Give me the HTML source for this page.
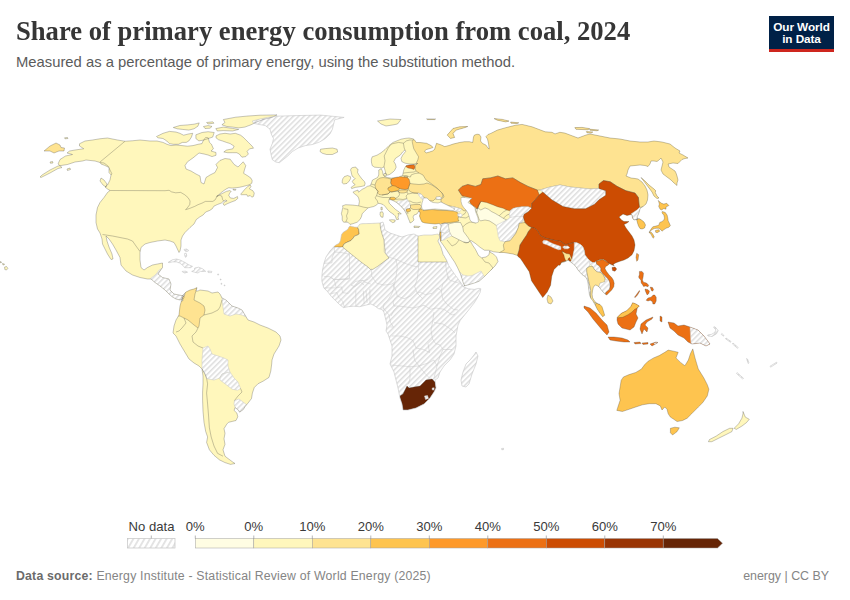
<!DOCTYPE html>
<html><head><meta charset="utf-8">
<style>
html,body{margin:0;padding:0;background:#fff;}
body{width:850px;height:600px;position:relative;overflow:hidden;font-family:"Liberation Sans",sans-serif;}
.title{position:absolute;left:16px;top:17.6px;line-height:27px;font-family:"Liberation Serif",serif;font-weight:bold;font-size:27px;color:#363636;white-space:nowrap;transform:scaleX(0.986);transform-origin:0 0;}
.sub{position:absolute;left:16px;top:54.6px;line-height:15px;font-size:14.8px;color:#5b5b5b;white-space:nowrap;}
.logo{position:absolute;left:769px;top:16px;width:65px;height:36px;background:#002147;}
.logo .bar{position:absolute;left:0;bottom:0;width:65px;height:3px;background:#ce261e;}
.logo .t{position:absolute;left:0;width:65px;text-align:center;color:#fff;font-weight:bold;font-size:11.8px;line-height:12px;letter-spacing:-0.1px;}
.foot{position:absolute;left:16px;top:570.2px;line-height:13px;font-size:12.3px;color:#858585;white-space:nowrap;letter-spacing:0.19px;}
.foot b{color:#6b6b6b;}
.lic{position:absolute;right:21px;top:570.2px;line-height:13px;font-size:12.4px;color:#858585;white-space:nowrap;}
svg{position:absolute;left:0;top:0;}
</style></head><body>
<div class="title">Share of primary energy consumption from coal, 2024</div>
<div class="sub">Measured as a percentage of primary energy, using the substitution method.</div>
<div class="logo"><div class="t" style="top:4.5px">Our World</div><div class="t" style="top:16.5px">in Data</div><div class="bar"></div></div>
<svg width="850" height="600" viewBox="0 0 850 600">
<defs>
<pattern id="hatch" patternUnits="userSpaceOnUse" width="3.8" height="3.8" patternTransform="rotate(45)">
<rect width="3.8" height="3.8" fill="#ffffff"/><rect width="1.5" height="3.8" fill="#dddddd"/></pattern>
<pattern id="hatchL" patternUnits="userSpaceOnUse" width="4.8" height="4.8" patternTransform="rotate(30)">
<rect width="4.8" height="4.8" fill="#ffffff"/><rect width="1.8" height="4.8" fill="#e2e2e2"/></pattern>
<clipPath id="land">
<polygon points="79.5,143.75 85,141 92.5,140 100,138.75 107.5,138 117.5,140 125,141.25 132.5,140.75 140,140 150,141 157,141 163,142.4 167,144.3 171,145.6 176,145 182,145.6 187.5,146.2 193,145.6 198,144.3 202,143.6 203,141 205.6,137.5 208.2,137.8 209.5,142.4 211.5,144.3 213.4,148.8 211,151 216,152.5 216,155.3 212,156.6 208,155 204,154 199,153 193,157.9 187.5,161.8 185,165.6 186,169 191,171 196,174 200,176 201,182.5 204,184 206,177.5 210,175 215,172.5 217.5,167.5 216,164.4 219.9,160.5 225,158.5 230.2,159.2 234.1,164.4 238,167 240.6,164.4 243.2,161.8 245.8,165.6 244.4,170 243.6,173.3 247.7,175.8 251,178.2 252.2,180.7 251.8,183.2 249.4,184.8 246.1,185.7 242.8,186.5 239.5,187.3 236.2,187.7 232.1,188.1 228.8,187.7 226.3,188.9 223.8,190.6 220.5,193.1 218.1,195.5 216.5,196.4 219.7,194.7 223,193.1 226.3,191.4 229.6,190.6 231.2,191.4 229.6,193.1 228.8,195.5 230.4,198 233.7,198.4 236.2,197.2 237.4,196.4 237.8,198.4 235.4,200.5 231.2,202.1 227.1,203.8 224.2,205.4 223,203.8 224.7,201.7 227.1,200.9 225.5,200.1 223,201.5 221.4,203 217.2,204.6 213.9,206.2 212.3,208.7 209.8,210.4 205.7,212 203.2,214.9 199.6,217.1 196.3,219.5 194,224 190,227.5 185,232.5 182.5,236 181,240 181,246 180,251 179,252.5 176,246 174,242.5 170,241 165,240 157.5,241 150,242.5 145,244 141,247.5 140,252.5 140,260 141,267.5 144,270 147.5,267.5 152.5,265 157.5,264 162.5,263 162.5,267.5 160,271 158,274 162.5,277.5 169,279 171,284 170,290 174,294 179,295 184,296 184,298 182.5,299 180,300 176,299 172.5,297 169,294 165,290 160,286 155,282.5 151,279 147.5,279 140,277.5 132.5,275 126,271 121,265 120,257.5 116,250 112.5,244 109,239 106,236 107,241 109,247 112,254 113,259 111,259.5 107.5,254 105,249 102.5,244 102,239 100,233 97.5,229 96,222.5 96,215 97.5,207.5 100,202.5 104,197.5 107.5,192.5 110,190.5 107.5,189 105,187 107.5,185 110,180 111,175 109,172.5 109,167.5 105,165.5 101,164 100,162.5 95,161 86,160 82.5,161 75,162 67.5,164.5 61,165.5 58,166 50,170 42,175 40,177 41,177.5 50,173 58,168.5 62,167.5 58,164 60,159.5 65.5,156 72.5,154.5 67,153 69.5,151 75,150 83.75,148.75 79.5,146"/>
<polygon points="101,178 104,180 107,184 106,187 103,185 100,181"/>
<polygon points="216,135.9 219.9,134 225,133.3 230.2,134 235.4,133.3 240.6,135.2 243.2,137.2 245.8,139.8 248.4,142.4 252.2,146.2 253.5,148.2 249.6,148.8 247.1,151.4 248.4,154 245.8,156.6 241.9,157.2 239.3,154 236.7,152.7 232.8,152.7 227.6,152.7 223.8,152 226.4,150.1 232.8,148.8 234.1,146.2 230.2,143.6 226.4,142.4 222.5,141 218.6,139.8 216,137.8"/>
<polygon points="156.5,136.5 163,133.3 169.4,131.4 175.9,132 179.8,133.3 183.6,135.2 188.8,133.9 192.7,133.3 191.4,137.2 188.8,141 186.2,142.4 182.4,142.4 178.5,144.3 173.3,144.3 169.4,143.6 166.8,141 163,138.5 157.8,137.8"/>
<polygon points="173.3,127.5 179.8,125.5 187.5,124.9 194,124.2 199.2,122.9 197.9,126.2 194,128.8 188.8,130.1 182.4,129.4 177.2,128.8"/>
<polygon points="223.4,119.5 235.7,117.2 247.9,116 260.1,115.2 277,114.9 272.4,117.2 263.2,119.5 257.1,121.8 251,124.8 244.8,127.1 238.7,127.9 232.6,127.1 226.5,126.4 221.9,124.8 224.9,122.5"/>
<polygon points="215.8,128.6 223.4,127.1 232.6,128.4 238.7,129.4 232.6,131 223.4,130.6 217.3,131"/>
<polygon points="195.9,134.8 202,132.5 208.1,131.7 214.2,132.5 212.7,137.1 208.1,138.6 203.5,140.1 198.9,140.9 195.9,138.6"/>
<polygon points="203.5,126.5 208,125.6 212,126.4 210,128.2 205,128.5"/>
<polygon points="206.6,122.5 212.7,121.8 214,123.2 208,124"/>
<polygon points="240.7,194.3 244.4,189.8 247.7,186.5 250.2,184.8 251,186.5 249.4,188.9 252.7,190.6 254.3,193.1 253.5,196.4 251.8,197.2 250.2,195.5 247.7,196.4 246.9,194.7 244.4,194.7 241.1,194.7"/>
<polygon points="233,189.2 236,189.4 235.5,190.3 233.2,190"/>
<polygon points="275.9,116.2 297,115.6 320.6,115.1 344.1,117.4 334.7,119.8 333.5,124.5 332.4,129.2 330,133.9 325.3,138.6 319.4,142.1 312.4,144.5 305.3,145.6 298.2,148 292.4,151.5 287.6,156.2 283,159.8 279.4,162.7 275.9,162.1 272.4,159.8 271.2,155.1 270,149.2 272.4,143.3 273.5,138.6 271.2,133.9 270,129.2 265.3,125.6 259.4,124.5 253.5,123.3 252.4,121 259.4,119.2 267.6,117.4"/>
<polygon points="320.6,149.2 325.3,148.6 332.4,148 337.1,149.2 337.6,152.1 332.4,154.5 326.5,154.5 322.4,153.3 320,151.5"/>
<polygon points="168.2,262.3 172.4,259.8 176.5,259 180.6,260.2 184.7,262.3 188.8,264.8 192.5,266.4 190.5,267.7 184.7,267.7 183.1,265.6 179.8,263.1 176.5,261.9 172.4,261.9 169.1,262.7"/>
<polygon points="194.6,268.1 198.7,267.2 202.8,268.9 205.7,271.4 200.4,271.4 197.9,273 194.6,272.2 191.7,271.4 194.6,270.1"/>
<polygon points="182.2,271.4 185.5,271.2 187.6,272.2 184.7,273 182.7,272.2"/>
<polygon points="207.8,271 211.9,271.4 211.5,272.6 208.2,272.6"/>
<polygon points="4.6,267 6.5,266.5 7.9,268.3 6.5,270 4.8,269.5"/>
<polygon points="2.5,263.5 4.5,264 4,265 2.8,264.8"/>
<polygon points="0.3,261.5 1.5,262 1,263 0.3,262.6"/>
<polygon points="184,249.5 186.5,249 188.8,250.5 187,251.6 185,251"/>
<polygon points="184.6,253.5 186.2,253.2 186.8,256 185.6,257.4 184.6,255.5"/>
<polygon points="217.7,274 218.6,274 218.6,275 217.7,275"/>
<polygon points="220.3,279 221,279 221,280 220.3,280"/>
<polygon points="221,283.3 221.8,283.3 221.8,284.2 221,284.2"/>
<polygon points="224.2,285 225,285 225,285.8 224.2,285.8"/>
<polygon points="501.5,448.5 503.5,448.3 503.5,449.6 501.8,449.8"/>
<polygon points="64.5,137.8 67.5,137.5 68,138.5 65,138.8"/>
<polygon points="50,162 52.5,161.5 53,163 50.5,163.3"/>
<polygon points="67,169 70,168 70.5,169.5 67.5,170.5"/>
<polygon points="44,151 50,146 56,143 60,145 61,147.5 64.5,148 64,151 59,151 54,153 50,151"/>
<polygon points="182,299 182,296 186,292 190,290 194,289 197,287.6 196,291 198,291 200,290 208,291 212,293 218,292 220,294 222,298 226,300 232,306 238,308 242,310 245,315 248,320 254,322 260,325 268,328 276,332 280,336 281,340 279,346 274,354 272,360 271.7,364 270.8,371 269,377.4 263.4,381 258,383.8 254.3,387.5 252.4,393 251.5,398.5 248.8,402.1 245,406.7 243.3,409.5 239.6,412.2 237.8,409.5 235,407.6 234.1,410.4 236.9,413.1 237.8,416.8 236,420.5 232.3,421.4 228.6,422.3 226.8,424.1 224,428.7 225,433.3 224,438.8 225,444.3 223,449.8 225,456.2 228,458.5 232.3,461.7 235,463.5 230.5,464.4 225,462.6 219.5,459.9 214,455.3 209.4,449.8 206.6,442.4 207.6,437 205.7,431.5 204,422.3 203,411.3 202.6,400.3 202.6,392 203,384 203,376 202,369 199,366 194,363 189,359 186,354 180,344 176,336 173,333 174,326 176,320 179,315 180,306"/>
<polygon points="350,224.4 347.9,222.2 343.6,222.2 342.2,220.1 342.2,216.5 341.4,213.7 342.2,210.1 342.9,207.2 342.5,205.8 345.7,204.7 352.9,205.1 358.6,205.8 359.4,201.5 358.6,197.9 357.2,195.7 355.1,194.3 352.9,192.2 354.3,191.4 357.9,190 358.6,192.2 362.2,189.3 365.1,187.9 367.2,186.4 370.1,185.7 371,184 372.5,180 375,178.75 377.5,177.5 378.75,175 378.75,170 381.25,168.75 382.5,171.25 383.1,174.4 384.4,176.25 387.5,177.5 391.25,178.1 395,177.5 398.75,176.9 402.5,175.6 403.1,173.1 403.75,170 405,167.5 406.25,165.6 410,164.8 414,164.5 417.5,163.5 414.6,164 409.8,164 405,163.2 401.8,161.6 401,158.4 402.6,155.2 405.8,151.2 405,150 402.6,152 400.2,155.2 395.4,158.4 393.8,161.6 395.4,164 396.2,167.2 394.6,170.4 393,172 389.8,174.4 387.4,175.2 385.8,173.6 385,170.4 384.2,167.2 383.4,167.2 381.8,168 379.4,167.6 374.6,167.2 372.2,165.6 371.4,162 371.4,159.2 372.2,156.8 377,155.2 381,152.8 385,149.6 389,145.6 393,142.4 397,140.8 401,139.2 405,138.4 409,138 413,138.8 414.6,140 416.25,142.5 420,142.5 426.6,143.3 431.5,145.8 433,147.5 430,148.5 426.5,149.5 424.5,151 426,153 429.5,152 432.5,151 434.5,149.5 436.5,143.3 441.4,145 444.7,146.6 449,145.5 453,144.1 459.5,142.5 464.5,141.7 469.4,141.7 472.7,142.5 473.5,137 474.4,135.1 477,134.2 479.3,134.5 481,137 480.5,141 482.6,143.5 485.9,145 487.5,147.4 489.2,149.1 488.6,144 487.5,139 485.9,136.7 488,134.5 490.8,133.4 497.4,130.1 505.7,127.7 515.6,125.2 522.1,124.4 532,126.8 538.6,129.3 545.2,131.8 552,132.3 555,133.9 559.9,132.3 564.9,133.1 570,135 578,138 586,135 590,134 600,136 610,138 620,139 630,141 640,142 648,142 654,141 662,142 670,144 675,148 680,151 679,153 683,155 688,158 685,158.5 682,159.5 680,161.5 678,163.5 673,163 668,164 668.5,165 669,167 672,169 675,171 676,173 677,176 678,180 677,183 677,185.5 674,183 671,180 667,177 663,174 661,170 662,166 663,162 661,158 659,160 657,161.5 654,161 651,161 650,164 648,166.5 645,165.5 640,165 635,165.5 630,166 628,170 627,174 626,176 631,178 635,178.5 638,179 642,182 645,186 647,190 648,195 647.5,200 646,204 643,206.5 640,208.5 639.5,211 638.5,214 637,217 638,219 636.5,219.5 637,221 637.5,223 638.5,226 640,228.5 642,229 644.5,228 645.5,225 644,222 641.5,220 639,218.5 638,219 634,220 632.5,218 632,215 631,214.5 627,215.5 623,214 619,217 621.5,220 624,221.5 629,221.5 627,223 624,224.5 626,228 629,232 632,236 634,240 635,245 634,250.7 632,254.7 628,258 624,260 620,261.3 616,262.7 613.3,264.2 614.2,265.8 612,265 609.6,263.8 607.5,265.4 605.4,266.7 605,268.8 606.7,271.7 609.2,275 611.7,277.5 613.3,280 614.2,283.3 613.8,286.7 611.7,290 609.2,292.5 606.7,295 605.4,294.2 603,292 601,289.5 599.2,287 597.5,285.8 595.8,285 594.6,285.5 593.3,287.5 592.5,290.8 592.1,294.2 592.5,297.5 593.8,300 596,302.7 598.7,304 600,304.5 602,306.7 603.3,310.7 604.7,315.3 602.7,316.7 600,313.3 597.3,309.3 595.3,305.3 592.7,300.5 590.8,298.3 589.5,295 589,291 588.5,287 588,283 587.3,280 586,277.3 582,274.5 578,270 576,266.7 573.3,264 570.7,262 568,260 566,261.3 564,262 561.3,262.7 560,265.3 558.5,265 554,269.5 551.75,276.25 550.6,285.25 547.25,292 542.75,297.6 540.5,294.25 536,287.5 531.5,280.75 529.25,271.75 524.75,265 522.5,261.6 520.25,258.25 518,256.5 517.5,255.5 513,254 508.5,253.25 504,252.5 499.5,252.5 493.5,251.75 489,250.25 484.5,250.25 480,247.25 475.5,243.5 471,240.5 469.5,241.25 471,242 472.5,245 475.5,249.5 477,252.5 478.5,255.5 481.5,257.75 486,257 489,254.75 489.7,251 490.5,252.5 493.5,254 496.5,257 498,261.5 495,266 490.5,270.5 485,276 482.5,278.3 479,281.3 474.3,283 468.5,284.8 463.8,286 464.5,285.5 464,284.6 463,282 462.1,278.9 460.2,273.3 457.5,267.5 454.6,262 450.5,256 447.1,250.7 443.5,245.5 440.5,241.3 440,237.5 439.5,234.5 440,231 441,227 441,225 439,223.5 435,224 430,223.5 425,223 422,222 420.5,219 419.5,216 420,214 420,212 418.5,211.5 417,214 414,215 413,217 414,220 412,222 410,223 409.5,221 408.5,219 407.5,216 406,213 404.5,210.5 402,207.3 399,204.5 396.5,202.5 394,201 391.5,200 389.3,199.3 388.7,201.3 389.3,203.3 391.3,205.3 393.3,207.3 395.3,209.3 397.3,210.7 399.3,212 401.3,214 399.3,214 398,213.3 398.7,215.3 398,217.3 398.7,219.3 396.7,219.7 396,218 395.3,216 394,214.7 392,213.3 390,212 387.3,209.3 385.3,206.7 383.3,204.7 380.7,203.7 378,203.3 376.5,205.1 373.7,206.5 370.8,207.2 368,207.9 366.5,209.4 364.4,211.5 362.2,213.7 361.5,216.5 360.1,219.4 357.2,222.2 352.9,223.7"/>
<polygon points="384,173.5 386,173.2 386.5,175.5 384.5,176.3 383.6,175"/>
<polygon points="352.3,167.6 355.8,167 356.9,168.8 358.1,169.3 357.5,172.3 358.7,174.6 360.4,176.9 362.2,179.3 364.5,181.6 365.1,183.4 364.5,185.7 362.2,186.3 358.7,186.9 355.2,187.4 351.7,188.6 351.1,187.4 353.4,185.7 355.2,184.5 353.4,183.4 352.3,181.6 353.4,179.8 355.2,178.7 354,177.5 352.3,176.3 351.7,174.6 351.1,171.7 350.5,169.9 351.4,168.2"/>
<polygon points="347.6,175.5 350.5,176.7 350.6,178.7 349.2,181 347,183.4 343.8,184 342.1,182.8 342.3,180.5 342.9,178.6 344.4,176.6"/>
<polygon points="377.5,121 390,119 401,119.5 397.5,124 392.5,125 386,126 381,124"/>
<polygon points="426.6,118.9 435.6,119 434.5,119.6 427.5,119.6"/>
<polygon points="447.2,135.1 453,128.5 459.5,126.8 467.8,126.5 464.5,127.7 456.2,130.1 453,133.4 454.6,137.5 450.5,138.4"/>
<polygon points="574.8,127.6 582,127.4 589.6,128.6 588,129.8 576,129.3"/>
<polygon points="494.1,118.6 502.4,119.4 509,121.1 505.7,121.9 497.4,120.2"/>
<polygon points="589.6,129.2 598.7,130 597,130.8 590,130.2"/>
<polygon points="586.3,131.6 592.9,132 591,133.1 587,132.8"/>
<polygon points="510.6,122 518.8,122.8 517,123.6 511,123.2"/>
<polygon points="641,177.5 645,181 649,185 654,189 656,191 655,192 657,196 659,198 657,198.5 654,196 652,192 649,188 646,184 643,180"/>
<polygon points="658.3,200.4 659.8,201.9 661.6,203.3 663.8,204.1 666.7,203.3 668.9,205.5 666,207 666,209.2 663.8,208.5 661.6,209.9 660.1,209.2 658.7,206.3 659.4,204.1"/>
<polygon points="662.3,211.4 665.3,212.5 667.1,215.1 667.8,218 668.2,220.9 669.3,223.1 670.4,225.7 668.9,227.2 666,228.3 663.4,230.1 662,231.2 660.5,229.4 658.7,228.3 656.5,228.3 654.3,228.6 652.4,229.4 651,230.5 649.5,231.9 650.6,229.7 652.8,226.8 655.7,226.1 658.7,225.3 659.8,222.4 661.6,221.7 663.8,220.2 664.5,218 663.8,215.1 662,212.9"/>
<polygon points="649.1,231.9 651.3,232.3 652.8,234.1 654.3,237.1 653.2,238.2 652.1,236.4 651,234.1 649.5,233"/>
<polygon points="655.4,230.5 658.7,229.7 659.8,231.2 657.2,232.7 655.7,232.3"/>
<polygon points="636.7,253.3 638.7,254.7 638,260 636.7,261.3 636,257.3"/>
<polygon points="612,267.5 615,267 616.7,269 615,271.3 612.5,270.5"/>
<polygon points="548,295 551,297 553,301 551,304 548,303 547,299"/>
<polygon points="433,227 437,226.5 436.5,228.5 433,228.5"/>
<polygon points="414,226 420,226.5 419,227.5 414,227.5"/>
<polygon points="389.3,220 392,219.7 395.3,220 394.7,222 392.7,222.7 390.7,221.3"/>
<polygon points="380.3,212 382.5,211.8 383.3,213.5 383,217.3 381,217 380,214.5"/>
<polygon points="380.9,207.3 382.2,207.2 382.3,209.8 381,210"/>
<polygon points="639.4,271.4 642,271.4 643.5,273.2 643.1,277 642.4,280 643.5,282.2 646.5,283 648.7,285.2 648,286.7 645.7,286 643.5,286.4 642.4,284.5 641.2,283 640.9,280 639.4,278.5 638.6,277 639.4,274.7"/>
<polygon points="646.1,300.2 648,298 651,297.2 653.2,295 654.7,295 656.2,297.2 656.2,301 654.7,304 652.9,304 652.5,301.7 650.2,300.2 648,301"/>
<polygon points="645,289 648,289.7 649.5,291.2 648.7,293.5 647.2,295 646.1,292.7 645.4,290.9"/>
<polygon points="650.2,287.1 652.5,287.5 653.6,289.7 652.5,291.2 651.4,290.5"/>
<polygon points="634.5,297.2 636.7,294.2 639.4,290.5 639.7,291.2 637.5,295 635.2,297.6"/>
<polygon points="584,306 590,308 596,313 602,320 607,325 609,332 607,335 603,331 598,325 593,319 588,312 584,308"/>
<polygon points="608,337 614,337 622,338 628,340 630,342 624,342 616,341 610,340"/>
<polygon points="634,342.5 640,342 641,343.5 635,344"/>
<polygon points="642,343 648,342.5 648,344 643,344.5"/>
<polygon points="650,344 656,342 658,342.5 652,346"/>
<polygon points="617.3,317.3 621.3,313.3 626.7,310.7 630.7,306.7 632.7,302.7 636,304 639.3,306 637.3,308 636,314 638,318 636,322 634,327 630,330 622,328 618,324 617,320"/>
<polygon points="641,324 646,320 653,317 652,319 647,322 645,325 648,328 647,332 644,329 642,334 640,329"/>
<polygon points="660,316 662,317 662,322 660,321"/>
<polygon points="668,322 674,323 678,326 684,325 690,327 698,330 704,336 710,344 706,346 700,343 692,344 688,342 684,338 678,335 674,331 670,328"/>
<polygon points="707.6,335 711.2,334.5 714.5,332.6 716,330 713.5,327 715,326.8 718.2,330.5 716.5,333.8 712,336.5 708,336"/>
<polygon points="721.8,333.5 724,335.5 723.5,336.2 721.3,334.5"/>
<polygon points="733,343 738.2,347.5 737.5,348.3 732.5,344"/>
<polygon points="726,338 731,341.5 730.5,342.3 725.5,338.8"/>
<polygon points="746.5,358.5 747.5,359 749,363 748.2,363.5"/>
<polygon points="770,366.3 776.5,362.2 777.1,363 770.6,367.2"/>
<polygon points="737.1,372.6 743.5,378.3 742.8,379.1 736.5,373.5"/>
<polygon points="692.8,348.9 695,357.9 698.3,369 703.9,378 707.3,384.7 708.9,389.2 707.3,395.9 702.8,402.6 698.3,407 691.6,413.8 687.2,418.2 682.7,420.5 677.1,421.6 673.8,419.3 670.4,417.1 668.2,413.8 667,409.3 664.8,407 662,410 660.3,405.9 655.9,403.7 649.2,403.7 642.5,404.8 635.8,407 629.1,409.3 622.4,411.5 616.8,410.4 617.9,407 620.1,400.3 619,393.6 620.1,386.9 621.2,380.2 623.5,376.9 629.1,374.6 635.8,372.4 641.4,369.1 644.7,364.6 648.1,361.2 653.6,357.9 659.2,355.6 664.8,352.3 668.2,350.1 673.8,351.2 678.2,352.3 676,357.9 680.5,362.4 684.9,365.7 688.3,360.1 690.5,353.4"/>
<polygon points="670.4,428.3 674.9,427.2 679.3,427.8 677.1,431.6 672.6,435 670.4,432.8"/>
<polygon points="743,411.5 745.3,417.1 749.3,419.3 746.4,422.7 741.9,426.1 736.3,429.4 734.1,428.3 738.6,423.8 741.9,418.2 743,413.8"/>
<polygon points="733,428.3 731.9,431.6 725.2,435 718.5,438.3 711.8,441.7 708.4,441.7 709.5,439.5 716.2,436.1 722.9,431.6 729.6,428.3"/>
<polygon points="476,352 478,356 476,364 472,374 469,384 466,387 462,386 461,380 463,372 466,364 470,360 474,355"/>
<polygon points="440,237 438,241 441,247 443.3,254.5 446.5,260 448.9,265.8 452,270.5 455.5,275.5 458.5,279.5 461,283 463.8,287.1 468.5,288.8 474.3,289.4 479,288.3 480.8,288.8 480.2,292.3 477.8,297 474.3,302.8 469.7,308.7 465,314.5 460.3,320.3 458,325 456,336 456,346 454,354 450,360 444,366 440,372 438,378 435,380 436,388 434,392 430,398 424,404 416,408 408,410 403,410 402,404 400,398 398,388 396,380 394,372 390,364 392,356 392,346 390,340 388,334 386,331 387,325 385.9,320 384.9,316.1 384,312.4 382.1,309.5 378.4,308.6 374.6,305.8 370.8,303.9 365.2,305.3 359.5,306.7 353.9,306.2 348.2,306.7 343.5,307.6 339.8,304.8 336,301.1 331.3,296.4 327.5,291.6 323.8,287.9 321.9,281.3 321.9,276 322.5,270 324,263 326,257 330,251 333.7,246.9 335.4,245.2 338.8,243.5 340.5,240.7 341,237.3 341.6,234.4 343.3,232.2 346.1,230.5 347.8,229.3 349,227.1 350.1,225.9 351.8,226.5 354.6,227.1 357.5,227.3 359.7,224.2 362,223.7 370,223.5 380,223 383,222 384,225 385,230 390,233 396,235 402,237 408,235 414,234 418,236 424,235 432,235 438,234"/>
</clipPath></defs>
<g stroke="none">
<polygon points="79.5,143.75 85,141 92.5,140 100,138.75 107.5,138 117.5,140 125,141.25 132.5,140.75 140,140 150,141 157,141 163,142.4 167,144.3 171,145.6 176,145 182,145.6 187.5,146.2 193,145.6 198,144.3 202,143.6 203,141 205.6,137.5 208.2,137.8 209.5,142.4 211.5,144.3 213.4,148.8 211,151 216,152.5 216,155.3 212,156.6 208,155 204,154 199,153 193,157.9 187.5,161.8 185,165.6 186,169 191,171 196,174 200,176 201,182.5 204,184 206,177.5 210,175 215,172.5 217.5,167.5 216,164.4 219.9,160.5 225,158.5 230.2,159.2 234.1,164.4 238,167 240.6,164.4 243.2,161.8 245.8,165.6 244.4,170 243.6,173.3 247.7,175.8 251,178.2 252.2,180.7 251.8,183.2 249.4,184.8 246.1,185.7 242.8,186.5 239.5,187.3 236.2,187.7 232.1,188.1 228.8,187.7 226.3,188.9 223.8,190.6 220.5,193.1 218.1,195.5 216.5,196.4 219.7,194.7 223,193.1 226.3,191.4 229.6,190.6 231.2,191.4 229.6,193.1 228.8,195.5 230.4,198 233.7,198.4 236.2,197.2 237.4,196.4 237.8,198.4 235.4,200.5 231.2,202.1 227.1,203.8 224.2,205.4 223,203.8 224.7,201.7 227.1,200.9 225.5,200.1 223,201.5 221.4,203 217.2,204.6 213.9,206.2 212.3,208.7 209.8,210.4 205.7,212 203.2,214.9 199.6,217.1 196.3,219.5 194,224 190,227.5 185,232.5 182.5,236 181,240 181,246 180,251 179,252.5 176,246 174,242.5 170,241 165,240 157.5,241 150,242.5 145,244 141,247.5 140,252.5 140,260 141,267.5 144,270 147.5,267.5 152.5,265 157.5,264 162.5,263 162.5,267.5 160,271 158,274 162.5,277.5 169,279 171,284 170,290 174,294 179,295 184,296 184,298 182.5,299 180,300 176,299 172.5,297 169,294 165,290 160,286 155,282.5 151,279 147.5,279 140,277.5 132.5,275 126,271 121,265 120,257.5 116,250 112.5,244 109,239 106,236 107,241 109,247 112,254 113,259 111,259.5 107.5,254 105,249 102.5,244 102,239 100,233 97.5,229 96,222.5 96,215 97.5,207.5 100,202.5 104,197.5 107.5,192.5 110,190.5 107.5,189 105,187 107.5,185 110,180 111,175 109,172.5 109,167.5 105,165.5 101,164 100,162.5 95,161 86,160 82.5,161 75,162 67.5,164.5 61,165.5 58,166 50,170 42,175 40,177 41,177.5 50,173 58,168.5 62,167.5 58,164 60,159.5 65.5,156 72.5,154.5 67,153 69.5,151 75,150 83.75,148.75 79.5,146" fill="#fff7bc"/>
<polygon points="101,178 104,180 107,184 106,187 103,185 100,181" fill="#fff7bc"/>
<polygon points="216,135.9 219.9,134 225,133.3 230.2,134 235.4,133.3 240.6,135.2 243.2,137.2 245.8,139.8 248.4,142.4 252.2,146.2 253.5,148.2 249.6,148.8 247.1,151.4 248.4,154 245.8,156.6 241.9,157.2 239.3,154 236.7,152.7 232.8,152.7 227.6,152.7 223.8,152 226.4,150.1 232.8,148.8 234.1,146.2 230.2,143.6 226.4,142.4 222.5,141 218.6,139.8 216,137.8" fill="#fff7bc"/>
<polygon points="156.5,136.5 163,133.3 169.4,131.4 175.9,132 179.8,133.3 183.6,135.2 188.8,133.9 192.7,133.3 191.4,137.2 188.8,141 186.2,142.4 182.4,142.4 178.5,144.3 173.3,144.3 169.4,143.6 166.8,141 163,138.5 157.8,137.8" fill="#fff7bc"/>
<polygon points="173.3,127.5 179.8,125.5 187.5,124.9 194,124.2 199.2,122.9 197.9,126.2 194,128.8 188.8,130.1 182.4,129.4 177.2,128.8" fill="#fff7bc"/>
<polygon points="223.4,119.5 235.7,117.2 247.9,116 260.1,115.2 277,114.9 272.4,117.2 263.2,119.5 257.1,121.8 251,124.8 244.8,127.1 238.7,127.9 232.6,127.1 226.5,126.4 221.9,124.8 224.9,122.5" fill="#fff7bc"/>
<polygon points="215.8,128.6 223.4,127.1 232.6,128.4 238.7,129.4 232.6,131 223.4,130.6 217.3,131" fill="#fff7bc"/>
<polygon points="195.9,134.8 202,132.5 208.1,131.7 214.2,132.5 212.7,137.1 208.1,138.6 203.5,140.1 198.9,140.9 195.9,138.6" fill="#fff7bc"/>
<polygon points="203.5,126.5 208,125.6 212,126.4 210,128.2 205,128.5" fill="#fff7bc"/>
<polygon points="206.6,122.5 212.7,121.8 214,123.2 208,124" fill="#fff7bc"/>
<polygon points="240.7,194.3 244.4,189.8 247.7,186.5 250.2,184.8 251,186.5 249.4,188.9 252.7,190.6 254.3,193.1 253.5,196.4 251.8,197.2 250.2,195.5 247.7,196.4 246.9,194.7 244.4,194.7 241.1,194.7" fill="#fff7bc"/>
<polygon points="233,189.2 236,189.4 235.5,190.3 233.2,190" fill="#fff7bc"/>
<polygon points="275.9,116.2 297,115.6 320.6,115.1 344.1,117.4 334.7,119.8 333.5,124.5 332.4,129.2 330,133.9 325.3,138.6 319.4,142.1 312.4,144.5 305.3,145.6 298.2,148 292.4,151.5 287.6,156.2 283,159.8 279.4,162.7 275.9,162.1 272.4,159.8 271.2,155.1 270,149.2 272.4,143.3 273.5,138.6 271.2,133.9 270,129.2 265.3,125.6 259.4,124.5 253.5,123.3 252.4,121 259.4,119.2 267.6,117.4" fill="url(#hatch)"/>
<polygon points="320.6,149.2 325.3,148.6 332.4,148 337.1,149.2 337.6,152.1 332.4,154.5 326.5,154.5 322.4,153.3 320,151.5" fill="#fff7bc"/>
<polygon points="168.2,262.3 172.4,259.8 176.5,259 180.6,260.2 184.7,262.3 188.8,264.8 192.5,266.4 190.5,267.7 184.7,267.7 183.1,265.6 179.8,263.1 176.5,261.9 172.4,261.9 169.1,262.7" fill="url(#hatch)"/>
<polygon points="194.6,268.1 198.7,267.2 202.8,268.9 205.7,271.4 200.4,271.4 197.9,273 194.6,272.2 191.7,271.4 194.6,270.1" fill="url(#hatch)"/>
<polygon points="182.2,271.4 185.5,271.2 187.6,272.2 184.7,273 182.7,272.2" fill="url(#hatch)"/>
<polygon points="207.8,271 211.9,271.4 211.5,272.6 208.2,272.6" fill="url(#hatch)"/>
<polygon points="4.6,267 6.5,266.5 7.9,268.3 6.5,270 4.8,269.5" fill="#fff7bc"/>
<polygon points="2.5,263.5 4.5,264 4,265 2.8,264.8" fill="#fff7bc"/>
<polygon points="0.3,261.5 1.5,262 1,263 0.3,262.6" fill="#fff7bc"/>
<polygon points="184,249.5 186.5,249 188.8,250.5 187,251.6 185,251" fill="url(#hatch)"/>
<polygon points="184.6,253.5 186.2,253.2 186.8,256 185.6,257.4 184.6,255.5" fill="url(#hatch)"/>
<polygon points="217.7,274 218.6,274 218.6,275 217.7,275" fill="url(#hatch)"/>
<polygon points="220.3,279 221,279 221,280 220.3,280" fill="url(#hatch)"/>
<polygon points="221,283.3 221.8,283.3 221.8,284.2 221,284.2" fill="url(#hatch)"/>
<polygon points="224.2,285 225,285 225,285.8 224.2,285.8" fill="url(#hatch)"/>
<polygon points="501.5,448.5 503.5,448.3 503.5,449.6 501.8,449.8" fill="url(#hatch)"/>
<polygon points="64.5,137.8 67.5,137.5 68,138.5 65,138.8" fill="#fff7bc"/>
<polygon points="50,162 52.5,161.5 53,163 50.5,163.3" fill="#fff7bc"/>
<polygon points="67,169 70,168 70.5,169.5 67.5,170.5" fill="#fff7bc"/>
<polygon points="44,151 50,146 56,143 60,145 61,147.5 64.5,148 64,151 59,151 54,153 50,151" fill="#fee391"/>
<polygon points="182,299 182,296 186,292 190,290 194,289 197,287.6 196,291 198,291 200,290 208,291 212,293 218,292 220,294 222,298 226,300 232,306 238,308 242,310 245,315 248,320 254,322 260,325 268,328 276,332 280,336 281,340 279,346 274,354 272,360 271.7,364 270.8,371 269,377.4 263.4,381 258,383.8 254.3,387.5 252.4,393 251.5,398.5 248.8,402.1 245,406.7 243.3,409.5 239.6,412.2 237.8,409.5 235,407.6 234.1,410.4 236.9,413.1 237.8,416.8 236,420.5 232.3,421.4 228.6,422.3 226.8,424.1 224,428.7 225,433.3 224,438.8 225,444.3 223,449.8 225,456.2 228,458.5 232.3,461.7 235,463.5 230.5,464.4 225,462.6 219.5,459.9 214,455.3 209.4,449.8 206.6,442.4 207.6,437 205.7,431.5 204,422.3 203,411.3 202.6,400.3 202.6,392 203,384 203,376 202,369 199,366 194,363 189,359 186,354 180,344 176,336 173,333 174,326 176,320 179,315 180,306" fill="#fff7bc"/>
<polygon points="350,224.4 347.9,222.2 343.6,222.2 342.2,220.1 342.2,216.5 341.4,213.7 342.2,210.1 342.9,207.2 342.5,205.8 345.7,204.7 352.9,205.1 358.6,205.8 359.4,201.5 358.6,197.9 357.2,195.7 355.1,194.3 352.9,192.2 354.3,191.4 357.9,190 358.6,192.2 362.2,189.3 365.1,187.9 367.2,186.4 370.1,185.7 371,184 372.5,180 375,178.75 377.5,177.5 378.75,175 378.75,170 381.25,168.75 382.5,171.25 383.1,174.4 384.4,176.25 387.5,177.5 391.25,178.1 395,177.5 398.75,176.9 402.5,175.6 403.1,173.1 403.75,170 405,167.5 406.25,165.6 410,164.8 414,164.5 417.5,163.5 414.6,164 409.8,164 405,163.2 401.8,161.6 401,158.4 402.6,155.2 405.8,151.2 405,150 402.6,152 400.2,155.2 395.4,158.4 393.8,161.6 395.4,164 396.2,167.2 394.6,170.4 393,172 389.8,174.4 387.4,175.2 385.8,173.6 385,170.4 384.2,167.2 383.4,167.2 381.8,168 379.4,167.6 374.6,167.2 372.2,165.6 371.4,162 371.4,159.2 372.2,156.8 377,155.2 381,152.8 385,149.6 389,145.6 393,142.4 397,140.8 401,139.2 405,138.4 409,138 413,138.8 414.6,140 416.25,142.5 420,142.5 426.6,143.3 431.5,145.8 433,147.5 430,148.5 426.5,149.5 424.5,151 426,153 429.5,152 432.5,151 434.5,149.5 436.5,143.3 441.4,145 444.7,146.6 449,145.5 453,144.1 459.5,142.5 464.5,141.7 469.4,141.7 472.7,142.5 473.5,137 474.4,135.1 477,134.2 479.3,134.5 481,137 480.5,141 482.6,143.5 485.9,145 487.5,147.4 489.2,149.1 488.6,144 487.5,139 485.9,136.7 488,134.5 490.8,133.4 497.4,130.1 505.7,127.7 515.6,125.2 522.1,124.4 532,126.8 538.6,129.3 545.2,131.8 552,132.3 555,133.9 559.9,132.3 564.9,133.1 570,135 578,138 586,135 590,134 600,136 610,138 620,139 630,141 640,142 648,142 654,141 662,142 670,144 675,148 680,151 679,153 683,155 688,158 685,158.5 682,159.5 680,161.5 678,163.5 673,163 668,164 668.5,165 669,167 672,169 675,171 676,173 677,176 678,180 677,183 677,185.5 674,183 671,180 667,177 663,174 661,170 662,166 663,162 661,158 659,160 657,161.5 654,161 651,161 650,164 648,166.5 645,165.5 640,165 635,165.5 630,166 628,170 627,174 626,176 631,178 635,178.5 638,179 642,182 645,186 647,190 648,195 647.5,200 646,204 643,206.5 640,208.5 639.5,211 638.5,214 637,217 638,219 636.5,219.5 637,221 637.5,223 638.5,226 640,228.5 642,229 644.5,228 645.5,225 644,222 641.5,220 639,218.5 638,219 634,220 632.5,218 632,215 631,214.5 627,215.5 623,214 619,217 621.5,220 624,221.5 629,221.5 627,223 624,224.5 626,228 629,232 632,236 634,240 635,245 634,250.7 632,254.7 628,258 624,260 620,261.3 616,262.7 613.3,264.2 614.2,265.8 612,265 609.6,263.8 607.5,265.4 605.4,266.7 605,268.8 606.7,271.7 609.2,275 611.7,277.5 613.3,280 614.2,283.3 613.8,286.7 611.7,290 609.2,292.5 606.7,295 605.4,294.2 603,292 601,289.5 599.2,287 597.5,285.8 595.8,285 594.6,285.5 593.3,287.5 592.5,290.8 592.1,294.2 592.5,297.5 593.8,300 596,302.7 598.7,304 600,304.5 602,306.7 603.3,310.7 604.7,315.3 602.7,316.7 600,313.3 597.3,309.3 595.3,305.3 592.7,300.5 590.8,298.3 589.5,295 589,291 588.5,287 588,283 587.3,280 586,277.3 582,274.5 578,270 576,266.7 573.3,264 570.7,262 568,260 566,261.3 564,262 561.3,262.7 560,265.3 558.5,265 554,269.5 551.75,276.25 550.6,285.25 547.25,292 542.75,297.6 540.5,294.25 536,287.5 531.5,280.75 529.25,271.75 524.75,265 522.5,261.6 520.25,258.25 518,256.5 517.5,255.5 513,254 508.5,253.25 504,252.5 499.5,252.5 493.5,251.75 489,250.25 484.5,250.25 480,247.25 475.5,243.5 471,240.5 469.5,241.25 471,242 472.5,245 475.5,249.5 477,252.5 478.5,255.5 481.5,257.75 486,257 489,254.75 489.7,251 490.5,252.5 493.5,254 496.5,257 498,261.5 495,266 490.5,270.5 485,276 482.5,278.3 479,281.3 474.3,283 468.5,284.8 463.8,286 464.5,285.5 464,284.6 463,282 462.1,278.9 460.2,273.3 457.5,267.5 454.6,262 450.5,256 447.1,250.7 443.5,245.5 440.5,241.3 440,237.5 439.5,234.5 440,231 441,227 441,225 439,223.5 435,224 430,223.5 425,223 422,222 420.5,219 419.5,216 420,214 420,212 418.5,211.5 417,214 414,215 413,217 414,220 412,222 410,223 409.5,221 408.5,219 407.5,216 406,213 404.5,210.5 402,207.3 399,204.5 396.5,202.5 394,201 391.5,200 389.3,199.3 388.7,201.3 389.3,203.3 391.3,205.3 393.3,207.3 395.3,209.3 397.3,210.7 399.3,212 401.3,214 399.3,214 398,213.3 398.7,215.3 398,217.3 398.7,219.3 396.7,219.7 396,218 395.3,216 394,214.7 392,213.3 390,212 387.3,209.3 385.3,206.7 383.3,204.7 380.7,203.7 378,203.3 376.5,205.1 373.7,206.5 370.8,207.2 368,207.9 366.5,209.4 364.4,211.5 362.2,213.7 361.5,216.5 360.1,219.4 357.2,222.2 352.9,223.7" fill="#fff7bc"/>
<polygon points="384,173.5 386,173.2 386.5,175.5 384.5,176.3 383.6,175" fill="#fff7bc"/>
<polygon points="352.3,167.6 355.8,167 356.9,168.8 358.1,169.3 357.5,172.3 358.7,174.6 360.4,176.9 362.2,179.3 364.5,181.6 365.1,183.4 364.5,185.7 362.2,186.3 358.7,186.9 355.2,187.4 351.7,188.6 351.1,187.4 353.4,185.7 355.2,184.5 353.4,183.4 352.3,181.6 353.4,179.8 355.2,178.7 354,177.5 352.3,176.3 351.7,174.6 351.1,171.7 350.5,169.9 351.4,168.2" fill="#fff7bc"/>
<polygon points="347.6,175.5 350.5,176.7 350.6,178.7 349.2,181 347,183.4 343.8,184 342.1,182.8 342.3,180.5 342.9,178.6 344.4,176.6" fill="#fff7bc"/>
<polygon points="377.5,121 390,119 401,119.5 397.5,124 392.5,125 386,126 381,124" fill="#fff7bc"/>
<polygon points="426.6,118.9 435.6,119 434.5,119.6 427.5,119.6" fill="#fff7bc"/>
<polygon points="447.2,135.1 453,128.5 459.5,126.8 467.8,126.5 464.5,127.7 456.2,130.1 453,133.4 454.6,137.5 450.5,138.4" fill="#fee391"/>
<polygon points="574.8,127.6 582,127.4 589.6,128.6 588,129.8 576,129.3" fill="#fee391"/>
<polygon points="494.1,118.6 502.4,119.4 509,121.1 505.7,121.9 497.4,120.2" fill="#fee391"/>
<polygon points="589.6,129.2 598.7,130 597,130.8 590,130.2" fill="#fee391"/>
<polygon points="586.3,131.6 592.9,132 591,133.1 587,132.8" fill="#fee391"/>
<polygon points="510.6,122 518.8,122.8 517,123.6 511,123.2" fill="#fee391"/>
<polygon points="641,177.5 645,181 649,185 654,189 656,191 655,192 657,196 659,198 657,198.5 654,196 652,192 649,188 646,184 643,180" fill="#fee391"/>
<polygon points="658.3,200.4 659.8,201.9 661.6,203.3 663.8,204.1 666.7,203.3 668.9,205.5 666,207 666,209.2 663.8,208.5 661.6,209.9 660.1,209.2 658.7,206.3 659.4,204.1" fill="#fec44f"/>
<polygon points="662.3,211.4 665.3,212.5 667.1,215.1 667.8,218 668.2,220.9 669.3,223.1 670.4,225.7 668.9,227.2 666,228.3 663.4,230.1 662,231.2 660.5,229.4 658.7,228.3 656.5,228.3 654.3,228.6 652.4,229.4 651,230.5 649.5,231.9 650.6,229.7 652.8,226.8 655.7,226.1 658.7,225.3 659.8,222.4 661.6,221.7 663.8,220.2 664.5,218 663.8,215.1 662,212.9" fill="#fec44f"/>
<polygon points="649.1,231.9 651.3,232.3 652.8,234.1 654.3,237.1 653.2,238.2 652.1,236.4 651,234.1 649.5,233" fill="#fec44f"/>
<polygon points="655.4,230.5 658.7,229.7 659.8,231.2 657.2,232.7 655.7,232.3" fill="#fec44f"/>
<polygon points="636.7,253.3 638.7,254.7 638,260 636.7,261.3 636,257.3" fill="#fe9929"/>
<polygon points="612,267.5 615,267 616.7,269 615,271.3 612.5,270.5" fill="#cc4c02"/>
<polygon points="548,295 551,297 553,301 551,304 548,303 547,299" fill="#fee391"/>
<polygon points="433,227 437,226.5 436.5,228.5 433,228.5" fill="#fff7bc"/>
<polygon points="414,226 420,226.5 419,227.5 414,227.5" fill="#fff7bc"/>
<polygon points="389.3,220 392,219.7 395.3,220 394.7,222 392.7,222.7 390.7,221.3" fill="#fff7bc"/>
<polygon points="380.3,212 382.5,211.8 383.3,213.5 383,217.3 381,217 380,214.5" fill="#fff7bc"/>
<polygon points="380.9,207.3 382.2,207.2 382.3,209.8 381,210" fill="#fff7bc"/>
<polygon points="639.4,271.4 642,271.4 643.5,273.2 643.1,277 642.4,280 643.5,282.2 646.5,283 648.7,285.2 648,286.7 645.7,286 643.5,286.4 642.4,284.5 641.2,283 640.9,280 639.4,278.5 638.6,277 639.4,274.7" fill="#ec7014"/>
<polygon points="646.1,300.2 648,298 651,297.2 653.2,295 654.7,295 656.2,297.2 656.2,301 654.7,304 652.9,304 652.5,301.7 650.2,300.2 648,301" fill="#ec7014"/>
<polygon points="645,289 648,289.7 649.5,291.2 648.7,293.5 647.2,295 646.1,292.7 645.4,290.9" fill="#ec7014"/>
<polygon points="650.2,287.1 652.5,287.5 653.6,289.7 652.5,291.2 651.4,290.5" fill="#ec7014"/>
<polygon points="634.5,297.2 636.7,294.2 639.4,290.5 639.7,291.2 637.5,295 635.2,297.6" fill="#ec7014"/>
<polygon points="584,306 590,308 596,313 602,320 607,325 609,332 607,335 603,331 598,325 593,319 588,312 584,308" fill="#ec7014"/>
<polygon points="608,337 614,337 622,338 628,340 630,342 624,342 616,341 610,340" fill="#ec7014"/>
<polygon points="634,342.5 640,342 641,343.5 635,344" fill="#ec7014"/>
<polygon points="642,343 648,342.5 648,344 643,344.5" fill="#ec7014"/>
<polygon points="650,344 656,342 658,342.5 652,346" fill="#ec7014"/>
<polygon points="617.3,317.3 621.3,313.3 626.7,310.7 630.7,306.7 632.7,302.7 636,304 639.3,306 637.3,308 636,314 638,318 636,322 634,327 630,330 622,328 618,324 617,320" fill="#ec7014"/>
<polygon points="641,324 646,320 653,317 652,319 647,322 645,325 648,328 647,332 644,329 642,334 640,329" fill="#ec7014"/>
<polygon points="660,316 662,317 662,322 660,321" fill="#ec7014"/>
<polygon points="668,322 674,323 678,326 684,325 690,327 698,330 704,336 710,344 706,346 700,343 692,344 688,342 684,338 678,335 674,331 670,328" fill="#ec7014"/>
<polygon points="707.6,335 711.2,334.5 714.5,332.6 716,330 713.5,327 715,326.8 718.2,330.5 716.5,333.8 712,336.5 708,336" fill="url(#hatch)"/>
<polygon points="721.8,333.5 724,335.5 723.5,336.2 721.3,334.5" fill="url(#hatch)"/>
<polygon points="733,343 738.2,347.5 737.5,348.3 732.5,344" fill="url(#hatch)"/>
<polygon points="726,338 731,341.5 730.5,342.3 725.5,338.8" fill="url(#hatch)"/>
<polygon points="746.5,358.5 747.5,359 749,363 748.2,363.5" fill="url(#hatch)"/>
<polygon points="770,366.3 776.5,362.2 777.1,363 770.6,367.2" fill="url(#hatch)"/>
<polygon points="737.1,372.6 743.5,378.3 742.8,379.1 736.5,373.5" fill="url(#hatch)"/>
<polygon points="692.8,348.9 695,357.9 698.3,369 703.9,378 707.3,384.7 708.9,389.2 707.3,395.9 702.8,402.6 698.3,407 691.6,413.8 687.2,418.2 682.7,420.5 677.1,421.6 673.8,419.3 670.4,417.1 668.2,413.8 667,409.3 664.8,407 662,410 660.3,405.9 655.9,403.7 649.2,403.7 642.5,404.8 635.8,407 629.1,409.3 622.4,411.5 616.8,410.4 617.9,407 620.1,400.3 619,393.6 620.1,386.9 621.2,380.2 623.5,376.9 629.1,374.6 635.8,372.4 641.4,369.1 644.7,364.6 648.1,361.2 653.6,357.9 659.2,355.6 664.8,352.3 668.2,350.1 673.8,351.2 678.2,352.3 676,357.9 680.5,362.4 684.9,365.7 688.3,360.1 690.5,353.4" fill="#fec44f"/>
<polygon points="670.4,428.3 674.9,427.2 679.3,427.8 677.1,431.6 672.6,435 670.4,432.8" fill="#fec44f"/>
<polygon points="743,411.5 745.3,417.1 749.3,419.3 746.4,422.7 741.9,426.1 736.3,429.4 734.1,428.3 738.6,423.8 741.9,418.2 743,413.8" fill="#fff7bc"/>
<polygon points="733,428.3 731.9,431.6 725.2,435 718.5,438.3 711.8,441.7 708.4,441.7 709.5,439.5 716.2,436.1 722.9,431.6 729.6,428.3" fill="#fff7bc"/>
<polygon points="476,352 478,356 476,364 472,374 469,384 466,387 462,386 461,380 463,372 466,364 470,360 474,355" fill="url(#hatch)"/>
<polygon points="440,237 438,241 441,247 443.3,254.5 446.5,260 448.9,265.8 452,270.5 455.5,275.5 458.5,279.5 461,283 463.8,287.1 468.5,288.8 474.3,289.4 479,288.3 480.8,288.8 480.2,292.3 477.8,297 474.3,302.8 469.7,308.7 465,314.5 460.3,320.3 458,325 456,336 456,346 454,354 450,360 444,366 440,372 438,378 435,380 436,388 434,392 430,398 424,404 416,408 408,410 403,410 402,404 400,398 398,388 396,380 394,372 390,364 392,356 392,346 390,340 388,334 386,331 387,325 385.9,320 384.9,316.1 384,312.4 382.1,309.5 378.4,308.6 374.6,305.8 370.8,303.9 365.2,305.3 359.5,306.7 353.9,306.2 348.2,306.7 343.5,307.6 339.8,304.8 336,301.1 331.3,296.4 327.5,291.6 323.8,287.9 321.9,281.3 321.9,276 322.5,270 324,263 326,257 330,251 333.7,246.9 335.4,245.2 338.8,243.5 340.5,240.7 341,237.3 341.6,234.4 343.3,232.2 346.1,230.5 347.8,229.3 349,227.1 350.1,225.9 351.8,226.5 354.6,227.1 357.5,227.3 359.7,224.2 362,223.7 370,223.5 380,223 383,222 384,225 385,230 390,233 396,235 402,237 408,235 414,234 418,236 424,235 432,235 438,234" fill="url(#hatch)"/>
</g>
<g clip-path="url(#land)" stroke-linejoin="round">
<polygon points="150,281 151,278 154,276 157,273 159,270 163,268 175,268 190,288 184.5,295.5 182.5,297.5 183,300.5 170,306 148,292" fill="url(#hatch)" stroke="#c8c8c8" stroke-width="0.5"/>
<polygon points="197,283 197,287.6 196,291 195,294 194,300 200,303 204,306 205,310 204,315 200,318 199,326 198,328 194,325 188,320 184,318 180,316 172,316 172,305 180,302 183,300.5 182.5,297.5 184.5,295.5 186,289 195,284" fill="#fee391" stroke="#333" stroke-opacity="0.55" stroke-width="0.5"/>
<polygon points="222,296 235,296 252,312 246,317 242,315 236,314 230,316 224,314 222,300" fill="url(#hatch)" stroke="#c8c8c8" stroke-width="0.5"/>
<polygon points="203,348 208,346 210,349 212,354 218,356 224,358 228,360 228,366 230,372 222,374 220,378 214,380 208,379 206.6,378.3 205,374 202,369 202,360 202.5,354" fill="url(#hatch)" stroke="#c8c8c8" stroke-width="0.5"/>
<polygon points="222,374 230,372 234,378 238,382 240.5,388.4 237.8,390.2 232.3,389.3 228,386 224,383 220,380 220,378" fill="url(#hatch)" stroke="#c8c8c8" stroke-width="0.5"/>
<polygon points="234.5,400.5 239,399 243,402 247,405 250,410 239.6,414 236,410 234,404" fill="url(#hatch)" stroke="#c8c8c8" stroke-width="0.5"/>
<polygon points="414,100 413.5,139.5 412.2,141.6 413,145.6 413.8,148.8 416.2,152.8 418.6,156.8 417.8,160 416.5,162.5 417.3,163.6 416.5,164.5 415,166 415,168 416,171 419,173 423,175 426,180 429,182 433,185 437,188 441,192 443,194 444,197 441,199 441,202 446,205 452.5,206.5 456.5,207.5 461.5,209 464,211 466.5,210 463,205 461.5,200 465,197.6 462.1,195.8 460.2,192.9 458.4,190.1 462.1,186.4 467.8,184.5 475.3,186.4 480.9,184.5 482.8,178.8 490.4,177.9 497.9,176 505.4,178.8 512.9,177.9 520.5,182.6 528,186.4 537.4,190.1 540,190 550,187 560,185 570,187 580,188 590,189 599,188.5 599,184 603.5,180.6 610.25,181.75 617,186.25 626,190.75 635,193 638.4,197.5 639,204 639.5,207.5 646,206 652,199.5 657,199.5 660,198 675,190 700,160 700,100" fill="#fee391" stroke="#333" stroke-opacity="0.55" stroke-width="0.5"/>
<polygon points="404,176.5 407.5,176.3 407.5,178 404.5,178.2" fill="#fee391" stroke="#333" stroke-opacity="0.55" stroke-width="0.5"/>
<polygon points="406,165.5 410,165 414,164.5 415,167 414,169.5 411,168.5 408,168 406.5,167 405,166" fill="#ec7014" stroke="#333" stroke-opacity="0.55" stroke-width="0.5"/>
<polygon points="410,183.5 414,184 419,184.5 424,184 427,183 431,184.5 435,187 439,190 442,193 443,196 441,199 438,199 435,199 433,201 429,200.5 425,198 423,196 421,194 418,193 414,193 411,192 409,190.5 408,188 409,186" fill="#fee391" stroke="#333" stroke-opacity="0.55" stroke-width="0.5"/>
<polygon points="418,193 421,194 423,196 424,198.5 422,199.5 420,197 418.5,195" fill="url(#hatch)" stroke="#c8c8c8" stroke-width="0.5"/>
<polygon points="391,179 395,177.5 399,176.5 403,177 407,177.5 409,179 410,183 409,186 408,189 405,189.5 401,189 398,188 395,187 392,185.5 390.5,183 391,181" fill="#fe9929" stroke="#333" stroke-opacity="0.55" stroke-width="0.5"/>
<polygon points="377,180 380,178 383,177.5 387,178 391,179 390.5,183 392,185.5 390,187 388,188 389,190 390,192 388,194 385,194.5 382,195 379,194.5 377.5,193 378,191.4 375.5,188.2 375,185 376,182" fill="#fee391" stroke="#333" stroke-opacity="0.55" stroke-width="0.5"/>
<polygon points="388,188 390.4,186.8 392.7,185.6 395.6,186.2 397.4,187.4 399.8,188.5 398.6,190.3 396.2,190.9 393.9,191.5 391.5,192.1 389.2,190.9 388,189.7" fill="#fec44f" stroke="#333" stroke-opacity="0.55" stroke-width="0.5"/>
<polygon points="398,191 401,190 405,190 408,190 407,192 404,193 401,193 399,192.5" fill="#fee391" stroke="#333" stroke-opacity="0.55" stroke-width="0.5"/>
<polygon points="390.7,197.3 394,197.2 396,198.5 394.5,200 391.5,200 389.3,199.3" fill="#fec44f" stroke="#333" stroke-opacity="0.55" stroke-width="0.5"/>
<polygon points="396.5,201.5 399,200.8 403,200.5 407,199 408.5,201 410,203.5 410.5,206 410,208.5 406.5,209 406,211 406.7,215.3 405.5,214 404.5,210.5 403,208 401,206.5 399,204.5 397.5,203" fill="url(#hatch)" stroke="#c8c8c8" stroke-width="0.5"/>
<polygon points="410.5,205 415,204.5 420,204.5 421.5,206.5 420.5,209 417,209.5 413,209.5 410.5,208" fill="#fee391" stroke="#333" stroke-opacity="0.55" stroke-width="0.5"/>
<polygon points="406.5,209 410,208.5 410.5,211 408,212 406,211" fill="#fec44f" stroke="#333" stroke-opacity="0.55" stroke-width="0.5"/>
<polygon points="419,209.5 421.5,209 423,210.5 427,210 432,209.5 437,210 442,210.5 447,210.5 453,211 457,212 459,215 458,219 459,221 455,222 450,222.5 445,223 442,224 441,225 435,225 425,224.5 420,222.5 418.7,216 419.3,212.5 418.7,211.2" fill="#fec44f" stroke="#333" stroke-opacity="0.55" stroke-width="0.5"/>
<polygon points="450,207 452.5,206.5 456.5,207.5 461.5,209 460,211.5 455,211 451,210.5 448,209" fill="url(#hatch)" stroke="#c8c8c8" stroke-width="0.5"/>
<polygon points="457.5,214 460,213 462.5,215 461,217.5 458,216.5" fill="url(#hatch)" stroke="#c8c8c8" stroke-width="0.5"/>
<polygon points="458.4,190.1 462.1,186.4 467.8,184.5 475.3,186.4 480.9,184.5 482.8,178.8 490.4,177.9 497.9,176 505.4,178.8 512.9,177.9 520.5,182.6 528,186.4 537.4,190.1 539.3,194.8 535.5,199.5 531.8,203.3 531.7,208.3 528.3,206.7 521.7,206.7 516.7,207.5 513.3,208.3 510,210.8 506.7,210 503.3,208.3 497.5,206.7 493.3,205 486.7,202.5 480.9,201.4 479.1,205.2 477.2,209.9 475.3,207.1 471.5,205.2 469.6,201.4 469.6,197.6 465.9,196.7 462.1,195.8 460.2,192.9" fill="#ec7014" stroke="#333" stroke-opacity="0.55" stroke-width="0.5"/>
<polygon points="475,209.2 478.3,208.3 480.8,210 485,207.9 488.3,209.2 491.7,211.7 495,213.3 499.2,215.8 503.3,218.3 506.7,220 503.3,222.5 500,225 496.7,225.8 493.3,223.3 489.2,220.8 485,220 480.8,220.8 479.2,220 478.3,216.7 476.7,212.5" fill="#fffde3" stroke="#333" stroke-opacity="0.55" stroke-width="0.5"/>
<polygon points="510,210.8 513.3,208.3 516.7,207.5 521.7,206.7 528.3,206.7 531.7,208.3 528.3,211.7 524.2,214.2 523.3,216.7 524.2,220 521.7,222.5 519.2,223.3 516.7,220 513.3,218.3 510,217.5 509.2,214.2 510,212.5" fill="url(#hatch)" stroke="#c8c8c8" stroke-width="0.5"/>
<polygon points="496.7,225 501.7,222.5 506.7,220 510,217.5 514.2,216.7 518.3,216.3 523.3,216.7 521.7,222.5 519.2,223.3 518.3,227.5 515.8,233.3 513.3,236.7 510,240.8 505,241.7 500,240.8 498.3,236.7 497.5,231.7 496.7,227.5" fill="url(#hatch)" stroke="#c8c8c8" stroke-width="0.5"/>
<polygon points="519.2,223.3 525,222.5 528.3,225.8 531.7,227.5 528.3,231.7 526.7,235 523.3,240 520,245 519.2,250 518,253.75 517.5,255.5 515,260 500,258 499.5,252.5 504.2,250 503.3,245 505,241.7 510,240.8 513.3,236.7 515.8,233.3 518.3,227.5" fill="#fee391" stroke="#333" stroke-opacity="0.55" stroke-width="0.5"/>
<polygon points="448.5,224 454.5,222.5 460.5,222.5 462.75,227 463.5,231.5 468,237.5 470.25,241.25 469.5,241.5 468,242.75 463.5,242 459,239.75 454.5,237.5 451.5,236 449.25,231.5 448.5,227" fill="#fffde3" stroke="#333" stroke-opacity="0.55" stroke-width="0.5"/>
<polygon points="441,224 446,223 448.5,224 448.5,227 449.25,231.5 445,233.5 441,232 440,228 438,224" fill="url(#hatch)" stroke="#c8c8c8" stroke-width="0.5"/>
<polygon points="441,232 445,233.5 449.25,231.5 451.5,236 447,238 444,240 441,240.5" fill="url(#hatch)" stroke="#c8c8c8" stroke-width="0.5"/>
<polygon points="439.5,232 441,232 441,240.5 440.2,241.5 439,236" fill="#fec44f" stroke="#333" stroke-opacity="0.55" stroke-width="0.5"/>
<polygon points="459.5,272 463,275 468,276 472,275.5 477,273 481,271 484,276 490,282 483,286.2 470,286.2 463.5,286.8 461,285" fill="url(#hatch)" stroke="#c8c8c8" stroke-width="0.5"/>
<polygon points="542.75,192 540,190 550,187 560,185 570,187 580,188 590,189 599,188.5 605.75,190.75 605.75,195.25 599,199.75 594.5,204.25 585.5,208.75 574.25,208.75 563,206.5 551.75,199.75" fill="url(#hatch)" stroke="#c8c8c8" stroke-width="0.5"/>
<polygon points="539.3,194.8 542.75,192 551.75,199.75 563,206.5 574.25,208.75 585.5,208.75 594.5,204.25 599,199.75 605.75,195.25 605.75,190.75 599,188.5 599,184 603.5,180.6 610.25,181.75 617,186.25 626,190.75 635,193 638.4,197.5 639,204 639.5,207.5 637,210 634,212 631,214 634,216 633,222 636,228 640,238 637,250 634,256 628,261 618,266 614.5,266 612,265 609.6,263.8 607.5,262.5 605.8,260.8 603.3,259.2 600,259.6 596.7,260.8 595,262.5 592.5,262.5 590,260.8 587.5,258.3 585,255 584.2,250 583,247 581,244.75 576.5,242.5 574.25,242.5 565.25,244.75 560.75,241.4 554,240.25 545,238 540.5,235.75 537.1,230.1 533.75,227.9 531.7,227.5 528.3,225.8 525,222.5 524.2,220 523.3,216.7 524.2,214.2 528.3,211.7 531.7,208.3 531.8,203.3 535.5,199.5" fill="#cc4c02" stroke="#333" stroke-opacity="0.55" stroke-width="0.5"/>
<polygon points="635,219.8 639,218.5 642,219.5 648,222 648,231 640,231 634,226" fill="#fec44f" stroke="#333" stroke-opacity="0.55" stroke-width="0.5"/>
<polygon points="631,214 634,212 637,210 639.5,207.5 641,208.5 639.5,212 638.5,216 638,219 636.5,219.5 634,220 632.5,218 632,215" fill="url(#hatch)" stroke="#c8c8c8" stroke-width="0.5"/>
<polygon points="533.75,227.9 531.7,227.5 528.3,231.7 526.7,235 523.3,240 520,245 519.2,250 518,253.75 517.5,255.5 515,260 528,290 541,300 546,295 551,287.5 553.5,280 556,272 560,266 562,262 566,261.3 568,260 570.7,262 573.3,264 572,260 574.25,249.25 576.5,242.5 574.25,242.5 565.25,244.75 560.75,241.4 554,240.25 545,238 540.5,235.75 537.1,230.1" fill="#cc4c02" stroke="#333" stroke-opacity="0.55" stroke-width="0.5"/>
<polygon points="542.6,241.8 543.8,240.3 546.8,240.6 550.3,242.4 553.8,244.1 557.4,245.3 560.9,246.5 560.9,249.4 558.5,249.7 554.4,248.2 550.9,246.5 546.8,244.7 543.2,243.5" fill="url(#hatch)" stroke="#c8c8c8" stroke-width="0.5"/>
<polygon points="562.6,247.1 564.4,245.9 567.9,245.9 569.7,247.6 567.9,248.8 564.4,248.8" fill="url(#hatch)" stroke="#c8c8c8" stroke-width="0.5"/>
<polygon points="562.1,251.2 564.4,252.4 566.2,253.5 569.7,254.1 570.9,257.1 572.6,260.6 572.6,262.9 570.9,260.6 569.7,257.6 568.5,258.2 567.4,261.8 565.6,260.6 564.4,257.6 563.8,254.7 562.6,252.9" fill="#fee391" stroke="#333" stroke-opacity="0.55" stroke-width="0.5"/>
<polygon points="574.25,242.5 576.5,242.5 581,244.75 583,247 584.2,250 585,255 587.5,258.3 590,260.8 590,264 589.2,266.7 586.7,268.3 586.7,271.7 587.5,275 588.3,279.2 589.2,283.3 590,286.7 590.8,290.8 590.4,295 590.8,298.3 585,298 575,275 570,262 572,260 574.25,249.25" fill="url(#hatch)" stroke="#c8c8c8" stroke-width="0.5"/>
<polygon points="590,261 592.5,262.5 595,262.5 595.8,261.3 596.7,264.2 599.2,265.8 600.8,268.3 600.8,270.8 602.5,273.3 605,275.8 607.5,278.3 606,280 605,280 605,278.3 603.3,275 600.8,272.5 596.7,271.7 594.2,269.2 592.5,266.3 590,264" fill="url(#hatch)" stroke="#c8c8c8" stroke-width="0.5"/>
<polygon points="586.7,268.3 589.2,266.7 592.5,266.3 594.2,269.2 596.7,271.7 600.8,272.5 603.3,275 605,278.3 605,281.7 602.5,282.5 600,283.3 599.2,285.8 597.5,287.5 594.5,288.5 594,292 594.5,297.5 596,302.7 594,303 591,299 590.8,298.3 590.4,295 590.8,290.8 590,286.7 589.2,283.3 588.3,279.2 587.5,275 586.7,271.7" fill="#fee391" stroke="#333" stroke-opacity="0.55" stroke-width="0.5"/>
<polygon points="605,280 606,280 607.5,278.3 609.2,280.8 610,283.3 610,286.7 609.6,289.2 607.9,290.8 605.8,292.5 605.4,294.2 603,296 599,290 599.2,285.8 600,283.3 602.5,282.5 605,281.7" fill="url(#hatch)" stroke="#c8c8c8" stroke-width="0.5"/>
<polygon points="595.8,261.3 599.2,260.4 602.5,259.6 605,260.8 607.5,262.5 609.6,263.8 610.5,266 610,272 614,276 617,282 618,290 607,298 605.4,294.2 605.8,292.5 607.9,290.8 609.6,289.2 610,286.7 610,283.3 609.2,280.8 607.5,278.3 605,275.8 602.5,273.3 600.8,270.8 600.8,268.3 599.2,265.8 596.7,264.2" fill="#ec7014" stroke="#333" stroke-opacity="0.55" stroke-width="0.5"/>
<polygon points="596,302.7 598.7,304 600,304 606,310 606,316 603,317.5 599.5,313.5 595,306.5" fill="#fec44f" stroke="#333" stroke-opacity="0.55" stroke-width="0.5"/>
<polygon points="615,318 622.7,317.3 628,314.7 632,312 634.7,309.3 637.3,308 641,307 641,299 615,299" fill="#fec44f" stroke="#333" stroke-opacity="0.55" stroke-width="0.5"/>
<polygon points="690,320 690,327 691,344 700,350 715,350 715,320" fill="url(#hatch)" stroke="#c8c8c8" stroke-width="0.5"/>
<polygon points="654,343 658,342 659,344 655,345.5" fill="url(#hatch)" stroke="#c8c8c8" stroke-width="0.5"/>
<polygon points="333.7,246.9 342.7,246.9 343.9,244.1 346.7,242.4 350.7,240.7 352.9,238.4 354.6,236.1 357.5,235 359.2,233.9 358.6,229.3 357.5,227.3 356,225.6 350,225.3 345,228 333,246" fill="#fec44f" stroke="#333" stroke-opacity="0.55" stroke-width="0.5"/>
<polygon points="356.5,225.5 357.5,227.3 358.6,229.3 359.2,233.9 357.5,235 354.6,236.1 352.9,238.4 350.7,240.7 346.7,242.4 343.9,244.1 342.7,246.9 342.8,247.2 350,253.2 356,258 362,262.8 368,267 370.4,269.4 372.8,269.4 377.6,266.4 382.4,262.8 387.1,259.2 389,258 387.1,255.6 385.3,253.2 384.7,247.2 384,240 382,234 380.5,228 380,222 362,222.5" fill="#fff7bc" stroke="#333" stroke-opacity="0.55" stroke-width="0.5"/>
<polygon points="418,236 418,230 439.2,230 439.4,234.5 440,237.5 438,241 441,247 443.3,254.5 446,259 447.5,262 418,262" fill="#fff7bc" stroke="#333" stroke-opacity="0.55" stroke-width="0.5"/>
<polygon points="400,396 403,394 407,386 409,388 414,387 420,386 426,380 432,379 435,382 436,388 434,392 430,398 424,404 416,408 408,410 403,410 402,404 400,398" fill="#662506" stroke="#333" stroke-opacity="0.55" stroke-width="0.5"/>
<polygon points="424.5,396 427.5,395.5 428.5,398.5 425.5,399.5" fill="url(#hatch)" stroke="#c8c8c8" stroke-width="0.5"/>
<polygon points="432.2,388 434.2,387.8 434,390 432.3,390" fill="url(#hatch)" stroke="#c8c8c8" stroke-width="0.5"/>
<polyline points="334.4,247.5 334.4,252 332,258 332,262.8 323.6,263.4" fill="none" stroke="#c8c8c8" stroke-width="0.5"/>
<polyline points="334.4,252 341,252.5 347.6,253.8 349.5,254.6" fill="none" stroke="#c8c8c8" stroke-width="0.5"/>
<polyline points="349.5,254.6 349.4,278.4 336.8,279.6 333.2,279.6 330.8,277.2" fill="none" stroke="#c8c8c8" stroke-width="0.5"/>
<polyline points="371.6,268.8 371.6,276 368,279.6 362,280.8 359.6,283.2 354.8,286.8 351.1,285.1" fill="none" stroke="#c8c8c8" stroke-width="0.5"/>
<polyline points="384,240 384,252 389.3,257.3" fill="none" stroke="#c8c8c8" stroke-width="0.5"/>
<polyline points="389.3,257.3 396,259.3 406.7,264 416,266.7 418.7,266.7 418.7,262" fill="none" stroke="#c8c8c8" stroke-width="0.5"/>
<polyline points="396,259.3 397.3,266.7 396,277.3 394.7,282.7 393.3,285.3" fill="none" stroke="#c8c8c8" stroke-width="0.5"/>
<polyline points="371.6,276 376.5,283.2 384,285.1 391.5,284.1 394.4,282.2" fill="none" stroke="#c8c8c8" stroke-width="0.5"/>
<polyline points="323.8,276.6 329.4,276.6 334.1,279.4 335.1,283.2 336,286.9" fill="none" stroke="#c8c8c8" stroke-width="0.5"/>
<polyline points="335.1,279.4 348.2,279.4 350.1,277.5" fill="none" stroke="#c8c8c8" stroke-width="0.5"/>
<polyline points="323.8,287.9 335.1,287.9 341.6,286.9" fill="none" stroke="#c8c8c8" stroke-width="0.5"/>
<polyline points="331.3,293.5 336.9,292.6 338.8,297.3 342.6,301.1 344.5,307.6" fill="none" stroke="#c8c8c8" stroke-width="0.5"/>
<polyline points="341.6,286.9 342.6,292.6 348.2,293.5 352,288.8 355.8,285.1 360.5,282.2 364.2,285.1" fill="none" stroke="#c8c8c8" stroke-width="0.5"/>
<polyline points="351.1,285.1 355.8,281.3 362.4,280.4 365.2,282.2 370.8,284.1" fill="none" stroke="#c8c8c8" stroke-width="0.5"/>
<polyline points="355.8,290.7 355.8,305.8" fill="none" stroke="#c8c8c8" stroke-width="0.5"/>
<polyline points="363.3,290.7 364.2,303.9" fill="none" stroke="#c8c8c8" stroke-width="0.5"/>
<polyline points="366.1,290.7 367.1,302.9" fill="none" stroke="#c8c8c8" stroke-width="0.5"/>
<polyline points="369.9,288.8 369.9,302.9" fill="none" stroke="#c8c8c8" stroke-width="0.5"/>
<polyline points="394.4,284.1 393.4,288.8 391.5,294.5 387.8,300.1 384,303.9 383.1,309.5" fill="none" stroke="#c8c8c8" stroke-width="0.5"/>
<polyline points="393.3,285.3 396,290.7 397.3,296 394.7,298.7 393,302 394,306 398,306" fill="none" stroke="#c8c8c8" stroke-width="0.5"/>
<polyline points="418.7,266.7 417.3,278.7 414.7,286.7 417.3,293.3 422.7,298.7" fill="none" stroke="#c8c8c8" stroke-width="0.5"/>
<polyline points="397.3,296 404,298.7 410.7,296 416,290.7" fill="none" stroke="#c8c8c8" stroke-width="0.5"/>
<polyline points="417.3,293.3 420,292 425.3,294.7 432,293.3 437.3,288 441.3,290.7 442.7,284 446.7,280 448,276" fill="none" stroke="#c8c8c8" stroke-width="0.5"/>
<polyline points="445.3,262 446.7,272 449.3,280 457.3,282.7 460.3,280.7" fill="none" stroke="#c8c8c8" stroke-width="0.5"/>
<polyline points="441.3,290.7 442.7,298.7 446.7,304 453.3,309.3 458,310" fill="none" stroke="#c8c8c8" stroke-width="0.5"/>
<polyline points="398,306 404,306.7 413.3,308 424,305.3 430.7,309.3 436,308" fill="none" stroke="#c8c8c8" stroke-width="0.5"/>
<polyline points="436,308 444,309.3 452,315 455,314" fill="none" stroke="#c8c8c8" stroke-width="0.5"/>
<polyline points="383,307.5 389,315 390.5,322.5 393.5,327 390.5,327" fill="none" stroke="#c8c8c8" stroke-width="0.5"/>
<polyline points="398,306 394,310 391,316" fill="none" stroke="#c8c8c8" stroke-width="0.5"/>
<polyline points="434,312 432.5,322.5 431,330 432.5,339 428,343.5 429.5,352.5 423.5,349.5 416,348 413,340.5 407,337.5 399.5,336 392,336" fill="none" stroke="#c8c8c8" stroke-width="0.5"/>
<polyline points="434,322.5 443,324 452,330 455,333" fill="none" stroke="#c8c8c8" stroke-width="0.5"/>
<polyline points="432.5,339 435.5,343.5 440,345 443,349.5 452,349.5" fill="none" stroke="#c8c8c8" stroke-width="0.5"/>
<polyline points="390.5,365 410,366.7 419,366" fill="none" stroke="#c8c8c8" stroke-width="0.5"/>
<polyline points="410,366.7 410,378 408.5,384" fill="none" stroke="#c8c8c8" stroke-width="0.5"/>
<polyline points="419,366 425,373.5 429.5,378" fill="none" stroke="#c8c8c8" stroke-width="0.5"/>
<polyline points="419,366 428,363 434,360" fill="none" stroke="#c8c8c8" stroke-width="0.5"/>
<polyline points="413,349.5 414.5,360 419,366" fill="none" stroke="#c8c8c8" stroke-width="0.5"/>
<polyline points="434,360 437,366 435.5,372 434,378" fill="none" stroke="#c8c8c8" stroke-width="0.5"/>
<polyline points="443,349.5 440,356 437,366" fill="none" stroke="#c8c8c8" stroke-width="0.5"/>
<polyline points="460.3,280.7 462,276" fill="none" stroke="#c8c8c8" stroke-width="0.5"/>
<polyline points="125,141.25 100,162" fill="none" stroke="#333" stroke-opacity="0.55" stroke-width="0.5"/>
<polyline points="100,162.5 104,163 108,166 110,170 112,174 111,175" fill="none" stroke="#333" stroke-opacity="0.55" stroke-width="0.5"/>
<polyline points="110,190.5 165,190.7 169.1,190.3 171.6,191.9 175.7,192.8 180.7,192.4 184.8,194.8 188.1,197.7 190.1,201 189.7,204.7 187.2,208 185.6,209.7 189.7,208.4 194.7,206.4 198,204.7 202.1,203.1 205.4,201.4 212.8,201.4 215.2,199.8 216.9,196.5 219.4,195.2 221.8,196.1 222.7,199.8 224.3,201.5" fill="none" stroke="#333" stroke-opacity="0.55" stroke-width="0.5"/>
<polyline points="102.5,234.5 112.5,236 120,237.5 127.5,239 132.5,241 136,246 140,251.5" fill="none" stroke="#333" stroke-opacity="0.55" stroke-width="0.5"/>
<polyline points="204,315 212,313 218,310 220,307 222,300" fill="none" stroke="#333" stroke-opacity="0.55" stroke-width="0.5"/>
<polyline points="184,318 186,323 182,328 179,331 176,332" fill="none" stroke="#333" stroke-opacity="0.55" stroke-width="0.5"/>
<polyline points="198,328 196,332 192,336 193,342 198,346 203,348" fill="none" stroke="#333" stroke-opacity="0.55" stroke-width="0.5"/>
<polyline points="206.6,378.3 207.6,383.8 206.6,393 207.6,404 208.5,415 209.4,427.8 211.2,437 214,446 217.6,453.4 223,456.2" fill="none" stroke="#333" stroke-opacity="0.55" stroke-width="0.5"/>
<polyline points="240.5,388.4 242,392 238,396 234.5,400.5" fill="none" stroke="#333" stroke-opacity="0.55" stroke-width="0.5"/>
<polyline points="202,369 205,374 206.6,378.3" fill="none" stroke="#333" stroke-opacity="0.55" stroke-width="0.5"/>
<polyline points="403.4,143.2 398.6,142.4 391.4,144 388.2,148 385.8,152.8 384.2,156 385,160.8 384.2,165.6 383.8,167.2" fill="none" stroke="#333" stroke-opacity="0.55" stroke-width="0.5"/>
<polyline points="405,150 404.2,148 403.4,143.2 406.6,140.8 409.8,140 413,140" fill="none" stroke="#333" stroke-opacity="0.55" stroke-width="0.5"/>
<polyline points="358.6,205.8 363.7,207.2 368,207.9" fill="none" stroke="#333" stroke-opacity="0.55" stroke-width="0.5"/>
<polyline points="343.6,208.6 347.9,209.4 347.9,212.2 346.5,215.8 347.2,218.7 345.7,222.2" fill="none" stroke="#333" stroke-opacity="0.55" stroke-width="0.5"/>
<polyline points="370.1,185.7 372,186.5 374,187.5 375.5,188.2" fill="none" stroke="#333" stroke-opacity="0.55" stroke-width="0.5"/>
<polyline points="371,184 373,184.5 375,185" fill="none" stroke="#333" stroke-opacity="0.55" stroke-width="0.5"/>
<polyline points="375.5,188.2 378,191.4 376.5,195.7 375.1,197.9 377.3,200.8 378,203.3" fill="none" stroke="#333" stroke-opacity="0.55" stroke-width="0.5"/>
<polyline points="376.5,195.7 379,196.5 383,197.5 388,197.5 390.5,197.5 389.3,199.3" fill="none" stroke="#333" stroke-opacity="0.55" stroke-width="0.5"/>
<polyline points="382,195 385,194.5 388,194 390,192 395,191.5 398,191 399,192.5 399.5,194.5 398.5,196.5 395.5,198.5" fill="none" stroke="#333" stroke-opacity="0.55" stroke-width="0.5"/>
<polyline points="407,192 408,194 406,196 407,198.5 403,199.5 399,199 395.5,199.5" fill="none" stroke="#333" stroke-opacity="0.55" stroke-width="0.5"/>
<polyline points="408,194 413,193 418,193.5" fill="none" stroke="#333" stroke-opacity="0.55" stroke-width="0.5"/>
<polyline points="403.1,173.1 408,172.5 414,172 416,171" fill="none" stroke="#333" stroke-opacity="0.55" stroke-width="0.5"/>
<polyline points="402.5,175.6 406,175.5 410,177 410.5,177" fill="none" stroke="#333" stroke-opacity="0.55" stroke-width="0.5"/>
<polyline points="410.5,177 411,175 415,173.5 419,173" fill="none" stroke="#333" stroke-opacity="0.55" stroke-width="0.5"/>
<polyline points="421,202 417,203 413,202.5 410,201 408.5,201" fill="none" stroke="#333" stroke-opacity="0.55" stroke-width="0.5"/>
<polyline points="407.5,212 408,214" fill="none" stroke="#333" stroke-opacity="0.55" stroke-width="0.5"/>
<polyline points="448.5,224 444,223 441,224" fill="none" stroke="#333" stroke-opacity="0.55" stroke-width="0.5"/>
<polyline points="463.5,242 466,243 469,242" fill="none" stroke="#333" stroke-opacity="0.55" stroke-width="0.5"/>
<polyline points="459,240 456,244 452,246 447,240" fill="none" stroke="#333" stroke-opacity="0.55" stroke-width="0.5"/>
<polyline points="482,258 485,262 489,263 493,268 490.5,270.5" fill="none" stroke="#333" stroke-opacity="0.55" stroke-width="0.5"/>
<polyline points="476.7,212.5 478,206 480.9,201.4" fill="none" stroke="#333" stroke-opacity="0.55" stroke-width="0.5"/>
<polyline points="499.2,215.8 503.3,212 506.7,210" fill="none" stroke="#333" stroke-opacity="0.55" stroke-width="0.5"/>
<polyline points="503.3,218.3 507,215 509.2,214.2" fill="none" stroke="#333" stroke-opacity="0.55" stroke-width="0.5"/>
<polyline points="462.75,227 466,224 470,222 476,223" fill="none" stroke="#333" stroke-opacity="0.55" stroke-width="0.5"/>
<polyline points="458,216.5 462,217.5 466,218 469,216" fill="none" stroke="#333" stroke-opacity="0.55" stroke-width="0.5"/>
<polyline points="462.5,215 465,213.5 466.5,210.5" fill="none" stroke="#333" stroke-opacity="0.55" stroke-width="0.5"/>
</g>
<g fill="#fff" stroke="#9a9a90" stroke-width="0.5">
<polygon points="423,198 427,198 430,201 433,202.5 438,203 441,202 445,204 449,206 453,208 455,209 453,210.5 447,210 441,209.5 435,209 429,209.5 424,210 422,209 421.5,206 422,203 423,200"/>
<polygon points="436,197 440,196.5 442,198.5 439,199.5 436,199"/>
<polygon points="461,197.5 465,197.5 468,198 472,198 470,200 468,202.5 472,205 475,208 475.5,211.5 476.5,214 478,218 478.5,222 476,223 472,222 470,220 469,216 468,213 466,210 464,208 462,205 461,201.5"/>
</g>
<g fill="none" stroke-width="0.55" stroke-linejoin="round">
<polygon points="79.5,143.75 85,141 92.5,140 100,138.75 107.5,138 117.5,140 125,141.25 132.5,140.75 140,140 150,141 157,141 163,142.4 167,144.3 171,145.6 176,145 182,145.6 187.5,146.2 193,145.6 198,144.3 202,143.6 203,141 205.6,137.5 208.2,137.8 209.5,142.4 211.5,144.3 213.4,148.8 211,151 216,152.5 216,155.3 212,156.6 208,155 204,154 199,153 193,157.9 187.5,161.8 185,165.6 186,169 191,171 196,174 200,176 201,182.5 204,184 206,177.5 210,175 215,172.5 217.5,167.5 216,164.4 219.9,160.5 225,158.5 230.2,159.2 234.1,164.4 238,167 240.6,164.4 243.2,161.8 245.8,165.6 244.4,170 243.6,173.3 247.7,175.8 251,178.2 252.2,180.7 251.8,183.2 249.4,184.8 246.1,185.7 242.8,186.5 239.5,187.3 236.2,187.7 232.1,188.1 228.8,187.7 226.3,188.9 223.8,190.6 220.5,193.1 218.1,195.5 216.5,196.4 219.7,194.7 223,193.1 226.3,191.4 229.6,190.6 231.2,191.4 229.6,193.1 228.8,195.5 230.4,198 233.7,198.4 236.2,197.2 237.4,196.4 237.8,198.4 235.4,200.5 231.2,202.1 227.1,203.8 224.2,205.4 223,203.8 224.7,201.7 227.1,200.9 225.5,200.1 223,201.5 221.4,203 217.2,204.6 213.9,206.2 212.3,208.7 209.8,210.4 205.7,212 203.2,214.9 199.6,217.1 196.3,219.5 194,224 190,227.5 185,232.5 182.5,236 181,240 181,246 180,251 179,252.5 176,246 174,242.5 170,241 165,240 157.5,241 150,242.5 145,244 141,247.5 140,252.5 140,260 141,267.5 144,270 147.5,267.5 152.5,265 157.5,264 162.5,263 162.5,267.5 160,271 158,274 162.5,277.5 169,279 171,284 170,290 174,294 179,295 184,296 184,298 182.5,299 180,300 176,299 172.5,297 169,294 165,290 160,286 155,282.5 151,279 147.5,279 140,277.5 132.5,275 126,271 121,265 120,257.5 116,250 112.5,244 109,239 106,236 107,241 109,247 112,254 113,259 111,259.5 107.5,254 105,249 102.5,244 102,239 100,233 97.5,229 96,222.5 96,215 97.5,207.5 100,202.5 104,197.5 107.5,192.5 110,190.5 107.5,189 105,187 107.5,185 110,180 111,175 109,172.5 109,167.5 105,165.5 101,164 100,162.5 95,161 86,160 82.5,161 75,162 67.5,164.5 61,165.5 58,166 50,170 42,175 40,177 41,177.5 50,173 58,168.5 62,167.5 58,164 60,159.5 65.5,156 72.5,154.5 67,153 69.5,151 75,150 83.75,148.75 79.5,146" stroke="#333" stroke-opacity="0.5"/>
<polygon points="101,178 104,180 107,184 106,187 103,185 100,181" stroke="#333" stroke-opacity="0.5"/>
<polygon points="216,135.9 219.9,134 225,133.3 230.2,134 235.4,133.3 240.6,135.2 243.2,137.2 245.8,139.8 248.4,142.4 252.2,146.2 253.5,148.2 249.6,148.8 247.1,151.4 248.4,154 245.8,156.6 241.9,157.2 239.3,154 236.7,152.7 232.8,152.7 227.6,152.7 223.8,152 226.4,150.1 232.8,148.8 234.1,146.2 230.2,143.6 226.4,142.4 222.5,141 218.6,139.8 216,137.8" stroke="#333" stroke-opacity="0.5"/>
<polygon points="156.5,136.5 163,133.3 169.4,131.4 175.9,132 179.8,133.3 183.6,135.2 188.8,133.9 192.7,133.3 191.4,137.2 188.8,141 186.2,142.4 182.4,142.4 178.5,144.3 173.3,144.3 169.4,143.6 166.8,141 163,138.5 157.8,137.8" stroke="#333" stroke-opacity="0.5"/>
<polygon points="173.3,127.5 179.8,125.5 187.5,124.9 194,124.2 199.2,122.9 197.9,126.2 194,128.8 188.8,130.1 182.4,129.4 177.2,128.8" stroke="#333" stroke-opacity="0.5"/>
<polygon points="223.4,119.5 235.7,117.2 247.9,116 260.1,115.2 277,114.9 272.4,117.2 263.2,119.5 257.1,121.8 251,124.8 244.8,127.1 238.7,127.9 232.6,127.1 226.5,126.4 221.9,124.8 224.9,122.5" stroke="#333" stroke-opacity="0.5"/>
<polygon points="215.8,128.6 223.4,127.1 232.6,128.4 238.7,129.4 232.6,131 223.4,130.6 217.3,131" stroke="#333" stroke-opacity="0.5"/>
<polygon points="195.9,134.8 202,132.5 208.1,131.7 214.2,132.5 212.7,137.1 208.1,138.6 203.5,140.1 198.9,140.9 195.9,138.6" stroke="#333" stroke-opacity="0.5"/>
<polygon points="203.5,126.5 208,125.6 212,126.4 210,128.2 205,128.5" stroke="#333" stroke-opacity="0.5"/>
<polygon points="206.6,122.5 212.7,121.8 214,123.2 208,124" stroke="#333" stroke-opacity="0.5"/>
<polygon points="240.7,194.3 244.4,189.8 247.7,186.5 250.2,184.8 251,186.5 249.4,188.9 252.7,190.6 254.3,193.1 253.5,196.4 251.8,197.2 250.2,195.5 247.7,196.4 246.9,194.7 244.4,194.7 241.1,194.7" stroke="#333" stroke-opacity="0.5"/>
<polygon points="233,189.2 236,189.4 235.5,190.3 233.2,190" stroke="#333" stroke-opacity="0.5"/>
<polygon points="275.9,116.2 297,115.6 320.6,115.1 344.1,117.4 334.7,119.8 333.5,124.5 332.4,129.2 330,133.9 325.3,138.6 319.4,142.1 312.4,144.5 305.3,145.6 298.2,148 292.4,151.5 287.6,156.2 283,159.8 279.4,162.7 275.9,162.1 272.4,159.8 271.2,155.1 270,149.2 272.4,143.3 273.5,138.6 271.2,133.9 270,129.2 265.3,125.6 259.4,124.5 253.5,123.3 252.4,121 259.4,119.2 267.6,117.4" stroke="#c0c0c0"/>
<polygon points="320.6,149.2 325.3,148.6 332.4,148 337.1,149.2 337.6,152.1 332.4,154.5 326.5,154.5 322.4,153.3 320,151.5" stroke="#333" stroke-opacity="0.5"/>
<polygon points="168.2,262.3 172.4,259.8 176.5,259 180.6,260.2 184.7,262.3 188.8,264.8 192.5,266.4 190.5,267.7 184.7,267.7 183.1,265.6 179.8,263.1 176.5,261.9 172.4,261.9 169.1,262.7" stroke="#c0c0c0"/>
<polygon points="194.6,268.1 198.7,267.2 202.8,268.9 205.7,271.4 200.4,271.4 197.9,273 194.6,272.2 191.7,271.4 194.6,270.1" stroke="#c0c0c0"/>
<polygon points="182.2,271.4 185.5,271.2 187.6,272.2 184.7,273 182.7,272.2" stroke="#c0c0c0"/>
<polygon points="207.8,271 211.9,271.4 211.5,272.6 208.2,272.6" stroke="#c0c0c0"/>
<polygon points="4.6,267 6.5,266.5 7.9,268.3 6.5,270 4.8,269.5" stroke="#333" stroke-opacity="0.5"/>
<polygon points="2.5,263.5 4.5,264 4,265 2.8,264.8" stroke="#333" stroke-opacity="0.5"/>
<polygon points="0.3,261.5 1.5,262 1,263 0.3,262.6" stroke="#333" stroke-opacity="0.5"/>
<polygon points="184,249.5 186.5,249 188.8,250.5 187,251.6 185,251" stroke="#c0c0c0"/>
<polygon points="184.6,253.5 186.2,253.2 186.8,256 185.6,257.4 184.6,255.5" stroke="#c0c0c0"/>
<polygon points="217.7,274 218.6,274 218.6,275 217.7,275" stroke="#c0c0c0"/>
<polygon points="220.3,279 221,279 221,280 220.3,280" stroke="#c0c0c0"/>
<polygon points="221,283.3 221.8,283.3 221.8,284.2 221,284.2" stroke="#c0c0c0"/>
<polygon points="224.2,285 225,285 225,285.8 224.2,285.8" stroke="#c0c0c0"/>
<polygon points="501.5,448.5 503.5,448.3 503.5,449.6 501.8,449.8" stroke="#c0c0c0"/>
<polygon points="64.5,137.8 67.5,137.5 68,138.5 65,138.8" stroke="#333" stroke-opacity="0.5"/>
<polygon points="50,162 52.5,161.5 53,163 50.5,163.3" stroke="#333" stroke-opacity="0.5"/>
<polygon points="67,169 70,168 70.5,169.5 67.5,170.5" stroke="#333" stroke-opacity="0.5"/>
<polygon points="44,151 50,146 56,143 60,145 61,147.5 64.5,148 64,151 59,151 54,153 50,151" stroke="#333" stroke-opacity="0.5"/>
<polygon points="182,299 182,296 186,292 190,290 194,289 197,287.6 196,291 198,291 200,290 208,291 212,293 218,292 220,294 222,298 226,300 232,306 238,308 242,310 245,315 248,320 254,322 260,325 268,328 276,332 280,336 281,340 279,346 274,354 272,360 271.7,364 270.8,371 269,377.4 263.4,381 258,383.8 254.3,387.5 252.4,393 251.5,398.5 248.8,402.1 245,406.7 243.3,409.5 239.6,412.2 237.8,409.5 235,407.6 234.1,410.4 236.9,413.1 237.8,416.8 236,420.5 232.3,421.4 228.6,422.3 226.8,424.1 224,428.7 225,433.3 224,438.8 225,444.3 223,449.8 225,456.2 228,458.5 232.3,461.7 235,463.5 230.5,464.4 225,462.6 219.5,459.9 214,455.3 209.4,449.8 206.6,442.4 207.6,437 205.7,431.5 204,422.3 203,411.3 202.6,400.3 202.6,392 203,384 203,376 202,369 199,366 194,363 189,359 186,354 180,344 176,336 173,333 174,326 176,320 179,315 180,306" stroke="#333" stroke-opacity="0.5"/>
<polygon points="350,224.4 347.9,222.2 343.6,222.2 342.2,220.1 342.2,216.5 341.4,213.7 342.2,210.1 342.9,207.2 342.5,205.8 345.7,204.7 352.9,205.1 358.6,205.8 359.4,201.5 358.6,197.9 357.2,195.7 355.1,194.3 352.9,192.2 354.3,191.4 357.9,190 358.6,192.2 362.2,189.3 365.1,187.9 367.2,186.4 370.1,185.7 371,184 372.5,180 375,178.75 377.5,177.5 378.75,175 378.75,170 381.25,168.75 382.5,171.25 383.1,174.4 384.4,176.25 387.5,177.5 391.25,178.1 395,177.5 398.75,176.9 402.5,175.6 403.1,173.1 403.75,170 405,167.5 406.25,165.6 410,164.8 414,164.5 417.5,163.5 414.6,164 409.8,164 405,163.2 401.8,161.6 401,158.4 402.6,155.2 405.8,151.2 405,150 402.6,152 400.2,155.2 395.4,158.4 393.8,161.6 395.4,164 396.2,167.2 394.6,170.4 393,172 389.8,174.4 387.4,175.2 385.8,173.6 385,170.4 384.2,167.2 383.4,167.2 381.8,168 379.4,167.6 374.6,167.2 372.2,165.6 371.4,162 371.4,159.2 372.2,156.8 377,155.2 381,152.8 385,149.6 389,145.6 393,142.4 397,140.8 401,139.2 405,138.4 409,138 413,138.8 414.6,140 416.25,142.5 420,142.5 426.6,143.3 431.5,145.8 433,147.5 430,148.5 426.5,149.5 424.5,151 426,153 429.5,152 432.5,151 434.5,149.5 436.5,143.3 441.4,145 444.7,146.6 449,145.5 453,144.1 459.5,142.5 464.5,141.7 469.4,141.7 472.7,142.5 473.5,137 474.4,135.1 477,134.2 479.3,134.5 481,137 480.5,141 482.6,143.5 485.9,145 487.5,147.4 489.2,149.1 488.6,144 487.5,139 485.9,136.7 488,134.5 490.8,133.4 497.4,130.1 505.7,127.7 515.6,125.2 522.1,124.4 532,126.8 538.6,129.3 545.2,131.8 552,132.3 555,133.9 559.9,132.3 564.9,133.1 570,135 578,138 586,135 590,134 600,136 610,138 620,139 630,141 640,142 648,142 654,141 662,142 670,144 675,148 680,151 679,153 683,155 688,158 685,158.5 682,159.5 680,161.5 678,163.5 673,163 668,164 668.5,165 669,167 672,169 675,171 676,173 677,176 678,180 677,183 677,185.5 674,183 671,180 667,177 663,174 661,170 662,166 663,162 661,158 659,160 657,161.5 654,161 651,161 650,164 648,166.5 645,165.5 640,165 635,165.5 630,166 628,170 627,174 626,176 631,178 635,178.5 638,179 642,182 645,186 647,190 648,195 647.5,200 646,204 643,206.5 640,208.5 639.5,211 638.5,214 637,217 638,219 636.5,219.5 637,221 637.5,223 638.5,226 640,228.5 642,229 644.5,228 645.5,225 644,222 641.5,220 639,218.5 638,219 634,220 632.5,218 632,215 631,214.5 627,215.5 623,214 619,217 621.5,220 624,221.5 629,221.5 627,223 624,224.5 626,228 629,232 632,236 634,240 635,245 634,250.7 632,254.7 628,258 624,260 620,261.3 616,262.7 613.3,264.2 614.2,265.8 612,265 609.6,263.8 607.5,265.4 605.4,266.7 605,268.8 606.7,271.7 609.2,275 611.7,277.5 613.3,280 614.2,283.3 613.8,286.7 611.7,290 609.2,292.5 606.7,295 605.4,294.2 603,292 601,289.5 599.2,287 597.5,285.8 595.8,285 594.6,285.5 593.3,287.5 592.5,290.8 592.1,294.2 592.5,297.5 593.8,300 596,302.7 598.7,304 600,304.5 602,306.7 603.3,310.7 604.7,315.3 602.7,316.7 600,313.3 597.3,309.3 595.3,305.3 592.7,300.5 590.8,298.3 589.5,295 589,291 588.5,287 588,283 587.3,280 586,277.3 582,274.5 578,270 576,266.7 573.3,264 570.7,262 568,260 566,261.3 564,262 561.3,262.7 560,265.3 558.5,265 554,269.5 551.75,276.25 550.6,285.25 547.25,292 542.75,297.6 540.5,294.25 536,287.5 531.5,280.75 529.25,271.75 524.75,265 522.5,261.6 520.25,258.25 518,256.5 517.5,255.5 513,254 508.5,253.25 504,252.5 499.5,252.5 493.5,251.75 489,250.25 484.5,250.25 480,247.25 475.5,243.5 471,240.5 469.5,241.25 471,242 472.5,245 475.5,249.5 477,252.5 478.5,255.5 481.5,257.75 486,257 489,254.75 489.7,251 490.5,252.5 493.5,254 496.5,257 498,261.5 495,266 490.5,270.5 485,276 482.5,278.3 479,281.3 474.3,283 468.5,284.8 463.8,286 464.5,285.5 464,284.6 463,282 462.1,278.9 460.2,273.3 457.5,267.5 454.6,262 450.5,256 447.1,250.7 443.5,245.5 440.5,241.3 440,237.5 439.5,234.5 440,231 441,227 441,225 439,223.5 435,224 430,223.5 425,223 422,222 420.5,219 419.5,216 420,214 420,212 418.5,211.5 417,214 414,215 413,217 414,220 412,222 410,223 409.5,221 408.5,219 407.5,216 406,213 404.5,210.5 402,207.3 399,204.5 396.5,202.5 394,201 391.5,200 389.3,199.3 388.7,201.3 389.3,203.3 391.3,205.3 393.3,207.3 395.3,209.3 397.3,210.7 399.3,212 401.3,214 399.3,214 398,213.3 398.7,215.3 398,217.3 398.7,219.3 396.7,219.7 396,218 395.3,216 394,214.7 392,213.3 390,212 387.3,209.3 385.3,206.7 383.3,204.7 380.7,203.7 378,203.3 376.5,205.1 373.7,206.5 370.8,207.2 368,207.9 366.5,209.4 364.4,211.5 362.2,213.7 361.5,216.5 360.1,219.4 357.2,222.2 352.9,223.7" stroke="#333" stroke-opacity="0.5"/>
<polygon points="384,173.5 386,173.2 386.5,175.5 384.5,176.3 383.6,175" stroke="#333" stroke-opacity="0.5"/>
<polygon points="352.3,167.6 355.8,167 356.9,168.8 358.1,169.3 357.5,172.3 358.7,174.6 360.4,176.9 362.2,179.3 364.5,181.6 365.1,183.4 364.5,185.7 362.2,186.3 358.7,186.9 355.2,187.4 351.7,188.6 351.1,187.4 353.4,185.7 355.2,184.5 353.4,183.4 352.3,181.6 353.4,179.8 355.2,178.7 354,177.5 352.3,176.3 351.7,174.6 351.1,171.7 350.5,169.9 351.4,168.2" stroke="#333" stroke-opacity="0.5"/>
<polygon points="347.6,175.5 350.5,176.7 350.6,178.7 349.2,181 347,183.4 343.8,184 342.1,182.8 342.3,180.5 342.9,178.6 344.4,176.6" stroke="#333" stroke-opacity="0.5"/>
<polygon points="377.5,121 390,119 401,119.5 397.5,124 392.5,125 386,126 381,124" stroke="#333" stroke-opacity="0.5"/>
<polygon points="426.6,118.9 435.6,119 434.5,119.6 427.5,119.6" stroke="#333" stroke-opacity="0.5"/>
<polygon points="447.2,135.1 453,128.5 459.5,126.8 467.8,126.5 464.5,127.7 456.2,130.1 453,133.4 454.6,137.5 450.5,138.4" stroke="#333" stroke-opacity="0.5"/>
<polygon points="574.8,127.6 582,127.4 589.6,128.6 588,129.8 576,129.3" stroke="#333" stroke-opacity="0.5"/>
<polygon points="494.1,118.6 502.4,119.4 509,121.1 505.7,121.9 497.4,120.2" stroke="#333" stroke-opacity="0.5"/>
<polygon points="589.6,129.2 598.7,130 597,130.8 590,130.2" stroke="#333" stroke-opacity="0.5"/>
<polygon points="586.3,131.6 592.9,132 591,133.1 587,132.8" stroke="#333" stroke-opacity="0.5"/>
<polygon points="510.6,122 518.8,122.8 517,123.6 511,123.2" stroke="#333" stroke-opacity="0.5"/>
<polygon points="641,177.5 645,181 649,185 654,189 656,191 655,192 657,196 659,198 657,198.5 654,196 652,192 649,188 646,184 643,180" stroke="#333" stroke-opacity="0.5"/>
<polygon points="658.3,200.4 659.8,201.9 661.6,203.3 663.8,204.1 666.7,203.3 668.9,205.5 666,207 666,209.2 663.8,208.5 661.6,209.9 660.1,209.2 658.7,206.3 659.4,204.1" stroke="#333" stroke-opacity="0.5"/>
<polygon points="662.3,211.4 665.3,212.5 667.1,215.1 667.8,218 668.2,220.9 669.3,223.1 670.4,225.7 668.9,227.2 666,228.3 663.4,230.1 662,231.2 660.5,229.4 658.7,228.3 656.5,228.3 654.3,228.6 652.4,229.4 651,230.5 649.5,231.9 650.6,229.7 652.8,226.8 655.7,226.1 658.7,225.3 659.8,222.4 661.6,221.7 663.8,220.2 664.5,218 663.8,215.1 662,212.9" stroke="#333" stroke-opacity="0.5"/>
<polygon points="649.1,231.9 651.3,232.3 652.8,234.1 654.3,237.1 653.2,238.2 652.1,236.4 651,234.1 649.5,233" stroke="#333" stroke-opacity="0.5"/>
<polygon points="655.4,230.5 658.7,229.7 659.8,231.2 657.2,232.7 655.7,232.3" stroke="#333" stroke-opacity="0.5"/>
<polygon points="636.7,253.3 638.7,254.7 638,260 636.7,261.3 636,257.3" stroke="#333" stroke-opacity="0.5"/>
<polygon points="612,267.5 615,267 616.7,269 615,271.3 612.5,270.5" stroke="#333" stroke-opacity="0.5"/>
<polygon points="548,295 551,297 553,301 551,304 548,303 547,299" stroke="#333" stroke-opacity="0.5"/>
<polygon points="433,227 437,226.5 436.5,228.5 433,228.5" stroke="#333" stroke-opacity="0.5"/>
<polygon points="414,226 420,226.5 419,227.5 414,227.5" stroke="#333" stroke-opacity="0.5"/>
<polygon points="389.3,220 392,219.7 395.3,220 394.7,222 392.7,222.7 390.7,221.3" stroke="#333" stroke-opacity="0.5"/>
<polygon points="380.3,212 382.5,211.8 383.3,213.5 383,217.3 381,217 380,214.5" stroke="#333" stroke-opacity="0.5"/>
<polygon points="380.9,207.3 382.2,207.2 382.3,209.8 381,210" stroke="#333" stroke-opacity="0.5"/>
<polygon points="639.4,271.4 642,271.4 643.5,273.2 643.1,277 642.4,280 643.5,282.2 646.5,283 648.7,285.2 648,286.7 645.7,286 643.5,286.4 642.4,284.5 641.2,283 640.9,280 639.4,278.5 638.6,277 639.4,274.7" stroke="#333" stroke-opacity="0.5"/>
<polygon points="646.1,300.2 648,298 651,297.2 653.2,295 654.7,295 656.2,297.2 656.2,301 654.7,304 652.9,304 652.5,301.7 650.2,300.2 648,301" stroke="#333" stroke-opacity="0.5"/>
<polygon points="645,289 648,289.7 649.5,291.2 648.7,293.5 647.2,295 646.1,292.7 645.4,290.9" stroke="#333" stroke-opacity="0.5"/>
<polygon points="650.2,287.1 652.5,287.5 653.6,289.7 652.5,291.2 651.4,290.5" stroke="#333" stroke-opacity="0.5"/>
<polygon points="634.5,297.2 636.7,294.2 639.4,290.5 639.7,291.2 637.5,295 635.2,297.6" stroke="#333" stroke-opacity="0.5"/>
<polygon points="584,306 590,308 596,313 602,320 607,325 609,332 607,335 603,331 598,325 593,319 588,312 584,308" stroke="#333" stroke-opacity="0.5"/>
<polygon points="608,337 614,337 622,338 628,340 630,342 624,342 616,341 610,340" stroke="#333" stroke-opacity="0.5"/>
<polygon points="634,342.5 640,342 641,343.5 635,344" stroke="#333" stroke-opacity="0.5"/>
<polygon points="642,343 648,342.5 648,344 643,344.5" stroke="#333" stroke-opacity="0.5"/>
<polygon points="650,344 656,342 658,342.5 652,346" stroke="#333" stroke-opacity="0.5"/>
<polygon points="617.3,317.3 621.3,313.3 626.7,310.7 630.7,306.7 632.7,302.7 636,304 639.3,306 637.3,308 636,314 638,318 636,322 634,327 630,330 622,328 618,324 617,320" stroke="#333" stroke-opacity="0.5"/>
<polygon points="641,324 646,320 653,317 652,319 647,322 645,325 648,328 647,332 644,329 642,334 640,329" stroke="#333" stroke-opacity="0.5"/>
<polygon points="660,316 662,317 662,322 660,321" stroke="#333" stroke-opacity="0.5"/>
<polygon points="668,322 674,323 678,326 684,325 690,327 698,330 704,336 710,344 706,346 700,343 692,344 688,342 684,338 678,335 674,331 670,328" stroke="#333" stroke-opacity="0.5"/>
<polygon points="707.6,335 711.2,334.5 714.5,332.6 716,330 713.5,327 715,326.8 718.2,330.5 716.5,333.8 712,336.5 708,336" stroke="#c0c0c0"/>
<polygon points="721.8,333.5 724,335.5 723.5,336.2 721.3,334.5" stroke="#c0c0c0"/>
<polygon points="733,343 738.2,347.5 737.5,348.3 732.5,344" stroke="#c0c0c0"/>
<polygon points="726,338 731,341.5 730.5,342.3 725.5,338.8" stroke="#c0c0c0"/>
<polygon points="746.5,358.5 747.5,359 749,363 748.2,363.5" stroke="#c0c0c0"/>
<polygon points="770,366.3 776.5,362.2 777.1,363 770.6,367.2" stroke="#c0c0c0"/>
<polygon points="737.1,372.6 743.5,378.3 742.8,379.1 736.5,373.5" stroke="#c0c0c0"/>
<polygon points="692.8,348.9 695,357.9 698.3,369 703.9,378 707.3,384.7 708.9,389.2 707.3,395.9 702.8,402.6 698.3,407 691.6,413.8 687.2,418.2 682.7,420.5 677.1,421.6 673.8,419.3 670.4,417.1 668.2,413.8 667,409.3 664.8,407 662,410 660.3,405.9 655.9,403.7 649.2,403.7 642.5,404.8 635.8,407 629.1,409.3 622.4,411.5 616.8,410.4 617.9,407 620.1,400.3 619,393.6 620.1,386.9 621.2,380.2 623.5,376.9 629.1,374.6 635.8,372.4 641.4,369.1 644.7,364.6 648.1,361.2 653.6,357.9 659.2,355.6 664.8,352.3 668.2,350.1 673.8,351.2 678.2,352.3 676,357.9 680.5,362.4 684.9,365.7 688.3,360.1 690.5,353.4" stroke="#333" stroke-opacity="0.5"/>
<polygon points="670.4,428.3 674.9,427.2 679.3,427.8 677.1,431.6 672.6,435 670.4,432.8" stroke="#333" stroke-opacity="0.5"/>
<polygon points="743,411.5 745.3,417.1 749.3,419.3 746.4,422.7 741.9,426.1 736.3,429.4 734.1,428.3 738.6,423.8 741.9,418.2 743,413.8" stroke="#333" stroke-opacity="0.5"/>
<polygon points="733,428.3 731.9,431.6 725.2,435 718.5,438.3 711.8,441.7 708.4,441.7 709.5,439.5 716.2,436.1 722.9,431.6 729.6,428.3" stroke="#333" stroke-opacity="0.5"/>
<polygon points="476,352 478,356 476,364 472,374 469,384 466,387 462,386 461,380 463,372 466,364 470,360 474,355" stroke="#c0c0c0"/>
<polygon points="440,237 438,241 441,247 443.3,254.5 446.5,260 448.9,265.8 452,270.5 455.5,275.5 458.5,279.5 461,283 463.8,287.1 468.5,288.8 474.3,289.4 479,288.3 480.8,288.8 480.2,292.3 477.8,297 474.3,302.8 469.7,308.7 465,314.5 460.3,320.3 458,325 456,336 456,346 454,354 450,360 444,366 440,372 438,378 435,380 436,388 434,392 430,398 424,404 416,408 408,410 403,410 402,404 400,398 398,388 396,380 394,372 390,364 392,356 392,346 390,340 388,334 386,331 387,325 385.9,320 384.9,316.1 384,312.4 382.1,309.5 378.4,308.6 374.6,305.8 370.8,303.9 365.2,305.3 359.5,306.7 353.9,306.2 348.2,306.7 343.5,307.6 339.8,304.8 336,301.1 331.3,296.4 327.5,291.6 323.8,287.9 321.9,281.3 321.9,276 322.5,270 324,263 326,257 330,251 333.7,246.9 335.4,245.2 338.8,243.5 340.5,240.7 341,237.3 341.6,234.4 343.3,232.2 346.1,230.5 347.8,229.3 349,227.1 350.1,225.9 351.8,226.5 354.6,227.1 357.5,227.3 359.7,224.2 362,223.7 370,223.5 380,223 383,222 384,225 385,230 390,233 396,235 402,237 408,235 414,234 418,236 424,235 432,235 438,234" stroke="#c0c0c0"/>
</g>
<g font-family="Liberation Sans, sans-serif" font-size="13.1" fill="#3a3a3a" text-anchor="middle">
<rect x="127.5" y="538.5" width="47.5" height="9.5" fill="url(#hatchL)" stroke="#c4c4c4" stroke-width="0.7"/>
<line x1="151.3" y1="535.5" x2="151.3" y2="538.5" stroke="#999" stroke-width="0.7"/>
<text x="151.5" y="531.2">No data</text>
<rect x="195.3" y="538.5" width="58.5" height="9.5" fill="#fffde3" stroke="#a0a0a0" stroke-width="0.5"/>
<rect x="253.8" y="538.5" width="58.5" height="9.5" fill="#fff7bc" stroke="#a0a0a0" stroke-width="0.5"/>
<rect x="312.3" y="538.5" width="58.5" height="9.5" fill="#fee391" stroke="#a0a0a0" stroke-width="0.5"/>
<rect x="370.8" y="538.5" width="58.5" height="9.5" fill="#fec44f" stroke="#a0a0a0" stroke-width="0.5"/>
<rect x="429.3" y="538.5" width="58.5" height="9.5" fill="#fe9929" stroke="#a0a0a0" stroke-width="0.5"/>
<rect x="487.8" y="538.5" width="58.5" height="9.5" fill="#ec7014" stroke="#a0a0a0" stroke-width="0.5"/>
<rect x="546.3" y="538.5" width="58.5" height="9.5" fill="#cc4c02" stroke="#a0a0a0" stroke-width="0.5"/>
<rect x="604.8" y="538.5" width="58.5" height="9.5" fill="#993404" stroke="#a0a0a0" stroke-width="0.5"/>
<path d="M663.3,538.5 H717.5 L722.5,543.25 L717.5,548 H663.3 Z" fill="#662506" stroke="#a0a0a0" stroke-width="0.5"/>
<line x1="195.3" y1="535.5" x2="195.3" y2="538.5" stroke="#999" stroke-width="0.7"/>
<text x="195.3" y="531.2">0%</text>
<line x1="253.8" y1="535.5" x2="253.8" y2="538.5" stroke="#999" stroke-width="0.7"/>
<text x="253.8" y="531.2">0%</text>
<line x1="312.3" y1="535.5" x2="312.3" y2="538.5" stroke="#999" stroke-width="0.7"/>
<text x="312.3" y="531.2">10%</text>
<line x1="370.8" y1="535.5" x2="370.8" y2="538.5" stroke="#999" stroke-width="0.7"/>
<text x="370.8" y="531.2">20%</text>
<line x1="429.3" y1="535.5" x2="429.3" y2="538.5" stroke="#999" stroke-width="0.7"/>
<text x="429.3" y="531.2">30%</text>
<line x1="487.8" y1="535.5" x2="487.8" y2="538.5" stroke="#999" stroke-width="0.7"/>
<text x="487.8" y="531.2">40%</text>
<line x1="546.3" y1="535.5" x2="546.3" y2="538.5" stroke="#999" stroke-width="0.7"/>
<text x="546.3" y="531.2">50%</text>
<line x1="604.8" y1="535.5" x2="604.8" y2="538.5" stroke="#999" stroke-width="0.7"/>
<text x="604.8" y="531.2">60%</text>
<line x1="663.3" y1="535.5" x2="663.3" y2="538.5" stroke="#999" stroke-width="0.7"/>
<text x="663.3" y="531.2">70%</text>
</g>
</svg>
<div class="foot"><b>Data source:</b> Energy Institute - Statistical Review of World Energy (2025)</div>
<div class="lic">energy | CC BY</div>
</body></html>
